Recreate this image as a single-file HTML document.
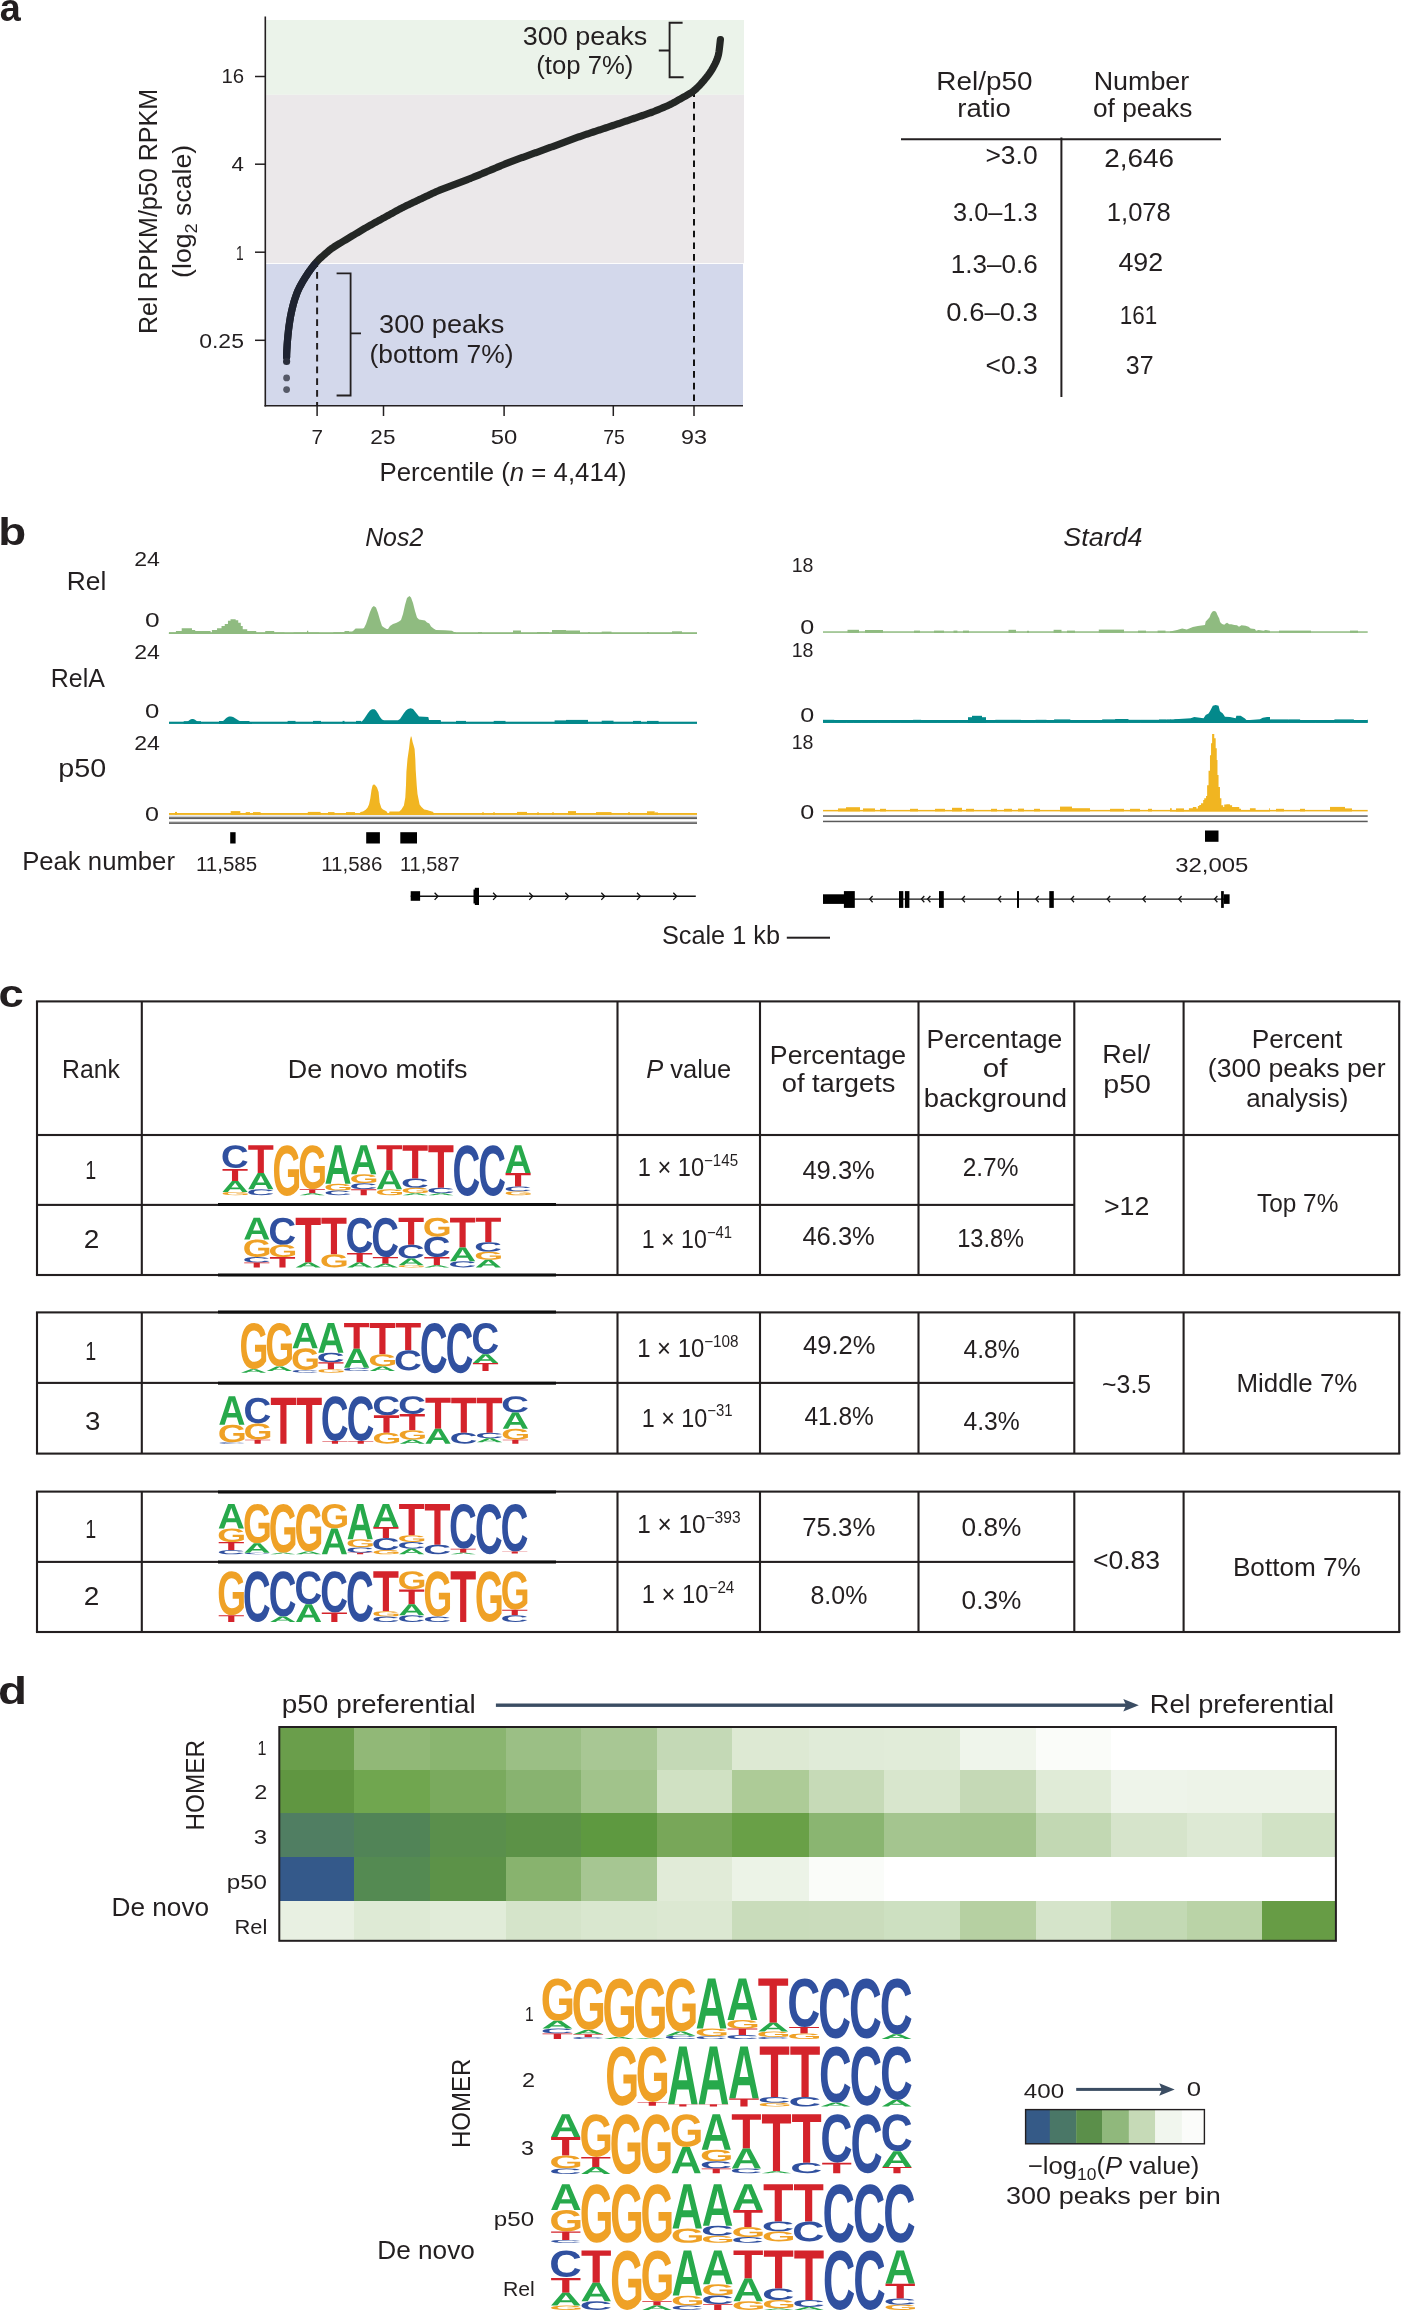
<!DOCTYPE html>
<html><head><meta charset="utf-8"><title>Figure</title>
<style>html,body{margin:0;padding:0;background:#fff;}
body{width:1401px;height:2311px;overflow:hidden;font-family:"Liberation Sans",sans-serif;}
svg{display:block;will-change:transform;}
text{font-family:"Liberation Sans",sans-serif;font-kerning:normal;}</style></head>
<body><svg width="1401" height="2311" viewBox="0 0 1401 2311" font-family="Liberation Sans, sans-serif"><defs><path id="gA" d="M1133 0 1008 360H471L346 0H51L565 1409H913L1425 0ZM739 1192 733 1170Q723 1134 709.0 1088.0Q695 1042 537 582H942L803 987L760 1123Z"/><path id="gC" d="M795 212Q1062 212 1166 480L1423 383Q1340 179 1179.5 79.5Q1019 -20 795 -20Q455 -20 269.5 172.5Q84 365 84 711Q84 1058 263.0 1244.0Q442 1430 782 1430Q1030 1430 1186.0 1330.5Q1342 1231 1405 1038L1145 967Q1112 1073 1015.5 1135.5Q919 1198 788 1198Q588 1198 484.5 1074.0Q381 950 381 711Q381 468 487.5 340.0Q594 212 795 212Z"/><path id="gG" d="M806 211Q921 211 1029.0 244.5Q1137 278 1196 330V525H852V743H1466V225Q1354 110 1174.5 45.0Q995 -20 798 -20Q454 -20 269.0 170.5Q84 361 84 711Q84 1059 270.0 1244.5Q456 1430 805 1430Q1301 1430 1436 1063L1164 981Q1120 1088 1026.0 1143.0Q932 1198 805 1198Q597 1198 489.0 1072.0Q381 946 381 711Q381 472 492.5 341.5Q604 211 806 211Z"/><path id="gT" d="M773 1181V0H478V1181H23V1409H1229V1181Z"/></defs><text transform="translate(-0.34 21.20) scale(0.99415 1)" x="0" y="0" font-size="38.00" fill="#231f20"><tspan font-weight="bold">a</tspan></text><rect x="265.50" y="20.00" width="478.50" height="74.80" fill="#ebf3ea" /><rect x="265.50" y="94.80" width="478.50" height="168.30" fill="#ebe8ea" /><rect x="265.50" y="264.00" width="477.50" height="141.50" fill="#d3d8eb" /><line x1="265.30" y1="16.50" x2="265.30" y2="406.50" stroke="#231f20" stroke-width="1.60" /><line x1="264.50" y1="405.70" x2="743.00" y2="405.70" stroke="#231f20" stroke-width="1.60" /><line x1="255.00" y1="76.50" x2="265.30" y2="76.50" stroke="#231f20" stroke-width="1.50" /><line x1="255.00" y1="164.20" x2="265.30" y2="164.20" stroke="#231f20" stroke-width="1.50" /><line x1="255.00" y1="252.20" x2="265.30" y2="252.20" stroke="#231f20" stroke-width="1.50" /><line x1="255.00" y1="340.30" x2="265.30" y2="340.30" stroke="#231f20" stroke-width="1.50" /><line x1="317.10" y1="405.70" x2="317.10" y2="416.00" stroke="#231f20" stroke-width="1.50" /><line x1="383.50" y1="405.70" x2="383.50" y2="416.00" stroke="#231f20" stroke-width="1.50" /><line x1="504.10" y1="405.70" x2="504.10" y2="416.00" stroke="#231f20" stroke-width="1.50" /><line x1="613.30" y1="405.70" x2="613.30" y2="416.00" stroke="#231f20" stroke-width="1.50" /><line x1="694.00" y1="405.70" x2="694.00" y2="416.00" stroke="#231f20" stroke-width="1.50" /><text transform="translate(221.47 82.70) scale(1.02010 1)" x="0" y="0" font-size="20.00" fill="#231f20">16</text><text transform="translate(231.45 170.90) scale(1.11765 1)" x="0" y="0" font-size="20.00" fill="#231f20">4</text><text transform="translate(235.97 260.00) scale(0.68966 1)" x="0" y="0" font-size="20.00" fill="#231f20">1</text><text transform="translate(199.20 348.00) scale(1.14973 1)" x="0" y="0" font-size="20.00" fill="#231f20">0.25</text><text transform="translate(311.52 443.70) scale(1.03261 1)" x="0" y="0" font-size="20.00" fill="#231f20">7</text><text transform="translate(370.37 443.70) scale(1.12745 1)" x="0" y="0" font-size="20.00" fill="#231f20">25</text><text transform="translate(490.85 443.70) scale(1.19324 1)" x="0" y="0" font-size="20.00" fill="#231f20">50</text><text transform="translate(603.23 443.70) scale(0.97059 1)" x="0" y="0" font-size="20.00" fill="#231f20">75</text><text transform="translate(680.95 443.70) scale(1.17073 1)" x="0" y="0" font-size="20.00" fill="#231f20">93</text><text transform="translate(379.54 480.70) scale(1.03165 1)" x="0" y="0" font-size="25.00" fill="#231f20">Percentile (<tspan font-style="italic">n</tspan> = 4,414)</text><text transform="translate(157.00 0) rotate(-90) translate(-334.01 0) scale(1.00281 1)" x="0" y="0" font-size="25.00" fill="#231f20">Rel RPKM/p50 RPKM</text><text transform="translate(191.30 0) rotate(-90) translate(-277.90 0) scale(1.06677 1)" x="0" y="0" font-size="25.00" fill="#231f20">(log<tspan font-size="17.00" dy="5.50">2</tspan><tspan dy="-5.50"> scale)</tspan></text><line x1="317.10" y1="260.30" x2="317.10" y2="405.70" stroke="#231f20" stroke-width="2.00" stroke-dasharray="6.7 5.1"/><line x1="694.00" y1="90.30" x2="694.00" y2="405.70" stroke="#111" stroke-width="2.00" stroke-dasharray="6.6 5.1"/><path d="M682.6 22.8 H669.6 V77.2 H683.6 M669.6 50.5 H658.8" fill="none" stroke="#231f20" stroke-width="1.9"/><path d="M336.6 273.4 H350.6 V395.5 H336.6 M350.6 333.4 H361" fill="none" stroke="#231f20" stroke-width="1.8"/><text transform="translate(522.86 44.50) scale(1.07811 1)" x="0" y="0" font-size="25.00" fill="#231f20">300 peaks</text><text transform="translate(536.26 74.30) scale(1.02842 1)" x="0" y="0" font-size="25.00" fill="#231f20">(top 7%)</text><text transform="translate(379.05 332.50) scale(1.08603 1)" x="0" y="0" font-size="25.00" fill="#231f20">300 peaks</text><text transform="translate(369.51 362.50) scale(1.05741 1)" x="0" y="0" font-size="25.00" fill="#231f20">(bottom 7%)</text><path d="M286.60 357.00 L286.60 355.45 L286.65 353.96 L286.72 352.50 L286.79 351.05 L286.87 349.61 L286.96 348.17 L287.05 346.73 L287.14 345.30 L287.24 343.86 L287.34 342.43 L287.45 340.99 L287.58 339.55 L287.71 338.11 L287.84 336.67 L287.98 335.22 L288.13 333.78 L288.28 332.33 L288.43 330.89 L288.60 329.44 L288.78 328.00 L288.97 326.56 L289.17 325.11 L289.38 323.67 L289.59 322.22 L289.82 320.78 L290.05 319.34 L290.29 317.91 L290.54 316.49 L290.80 315.08 L291.09 313.67 L291.38 312.29 L291.69 310.90 L292.01 309.53 L292.34 308.16 L292.67 306.79 L293.01 305.43 L293.37 304.07 L293.74 302.71 L294.14 301.36 L294.56 300.01 L295.00 298.67 L295.45 297.34 L295.91 296.00 L296.39 294.68 L296.88 293.35 L297.39 292.04 L297.93 290.74 L298.50 289.46 L299.11 288.19 L299.75 286.93 L300.41 285.69 L301.08 284.45 L301.77 283.21 L302.47 281.98 L303.18 280.76 L303.92 279.53 L304.67 278.32 L305.43 277.11 L306.22 275.91 L307.01 274.71 L307.81 273.52 L308.62 272.33 L309.44 271.16 L310.27 270.00 L311.11 268.86 L311.96 267.72 L312.81 266.60 L313.68 265.48 L314.55 264.38 L315.44 263.29 L316.35 262.22 L317.30 261.18 L318.27 260.17 L319.28 259.19 L320.30 258.22 L321.35 257.28 L322.40 256.34 L323.46 255.40 L324.52 254.47 L325.58 253.54 L326.64 252.61 L327.71 251.68 L328.78 250.78 L329.87 249.89 L330.98 249.02 L332.12 248.19 L333.28 247.40 L334.46 246.63 L335.65 245.88 L336.85 245.14 L338.06 244.41 L339.27 243.69 L340.48 242.96 L341.69 242.23 L342.90 241.51 L344.11 240.78 L345.32 240.06 L346.53 239.33 L347.74 238.61 L348.95 237.88 L350.16 237.16 L351.37 236.43 L352.58 235.71 L353.79 234.98 L355.00 234.25 L356.21 233.53 L357.42 232.80 L358.63 232.08 L359.84 231.35 L361.05 230.63 L362.26 229.90 L363.47 229.18 L364.69 228.47 L365.90 227.75 L367.12 227.05 L368.34 226.35 L369.57 225.66 L370.80 224.98 L372.03 224.30 L373.26 223.62 L374.49 222.95 L375.72 222.27 L376.95 221.59 L378.18 220.92 L379.41 220.24 L380.64 219.57 L381.87 218.89 L383.10 218.21 L384.33 217.54 L385.57 216.86 L386.80 216.19 L388.03 215.51 L389.26 214.83 L390.49 214.16 L391.72 213.48 L392.95 212.81 L394.18 212.13 L395.41 211.46 L396.65 210.78 L397.88 210.11 L399.11 209.44 L400.35 208.77 L401.59 208.12 L402.84 207.47 L404.09 206.84 L405.35 206.22 L406.62 205.61 L407.89 205.00 L409.16 204.40 L410.43 203.80 L411.70 203.20 L412.97 202.60 L414.24 202.00 L415.51 201.40 L416.79 200.80 L418.06 200.20 L419.33 199.60 L420.60 199.00 L421.87 198.40 L423.14 197.80 L424.41 197.20 L425.69 196.60 L426.96 196.00 L428.23 195.40 L429.50 194.80 L430.77 194.20 L432.04 193.60 L433.32 193.01 L434.59 192.41 L435.87 191.83 L437.16 191.25 L438.45 190.70 L439.75 190.15 L441.06 189.62 L442.37 189.10 L443.69 188.59 L445.01 188.08 L446.33 187.58 L447.66 187.07 L448.98 186.57 L450.30 186.07 L451.62 185.56 L452.94 185.06 L454.27 184.56 L455.59 184.05 L456.91 183.55 L458.23 183.04 L459.56 182.54 L460.88 182.04 L462.20 181.53 L463.52 181.03 L464.84 180.53 L466.17 180.02 L467.49 179.52 L468.81 179.01 L470.13 178.51 L471.45 178.00 L472.76 177.48 L474.08 176.96 L475.38 176.43 L476.69 175.90 L477.99 175.36 L479.29 174.82 L480.59 174.27 L481.89 173.73 L483.19 173.18 L484.49 172.64 L485.78 172.09 L487.08 171.55 L488.38 171.00 L489.68 170.45 L490.98 169.91 L492.27 169.36 L493.57 168.82 L494.87 168.27 L496.17 167.73 L497.47 167.18 L498.77 166.64 L500.06 166.09 L501.36 165.55 L502.66 165.00 L503.96 164.46 L505.26 163.92 L506.56 163.38 L507.86 162.85 L509.17 162.33 L510.48 161.82 L511.79 161.32 L513.11 160.83 L514.43 160.35 L515.75 159.87 L517.07 159.39 L518.39 158.92 L519.72 158.44 L521.04 157.97 L522.36 157.50 L523.68 157.02 L525.01 156.55 L526.33 156.07 L527.65 155.60 L528.97 155.13 L530.29 154.65 L531.62 154.18 L532.94 153.70 L534.26 153.23 L535.58 152.76 L536.91 152.28 L538.23 151.81 L539.55 151.33 L540.87 150.86 L542.19 150.38 L543.52 149.90 L544.84 149.43 L546.16 148.94 L547.48 148.46 L548.81 147.97 L550.13 147.49 L551.45 147.00 L552.77 146.51 L554.09 146.02 L555.42 145.53 L556.74 145.04 L558.06 144.56 L559.38 144.07 L560.71 143.58 L562.03 143.09 L563.35 142.60 L564.67 142.11 L565.99 141.62 L567.32 141.13 L568.64 140.64 L569.96 140.16 L571.28 139.67 L572.61 139.18 L573.93 138.69 L575.25 138.20 L576.57 137.71 L577.90 137.23 L579.23 136.75 L580.56 136.28 L581.89 135.81 L583.23 135.35 L584.57 134.90 L585.92 134.45 L587.26 134.00 L588.61 133.55 L589.96 133.11 L591.30 132.66 L592.65 132.22 L594.00 131.77 L595.35 131.32 L596.69 130.88 L598.04 130.43 L599.39 129.99 L600.73 129.54 L602.08 129.10 L603.43 128.65 L604.78 128.21 L606.12 127.76 L607.47 127.32 L608.82 126.87 L610.16 126.43 L611.51 125.98 L612.86 125.53 L614.21 125.09 L615.55 124.64 L616.90 124.19 L618.25 123.74 L619.59 123.28 L620.94 122.83 L622.29 122.37 L623.64 121.92 L624.98 121.46 L626.33 121.00 L627.68 120.55 L629.02 120.09 L630.37 119.63 L631.72 119.18 L633.07 118.72 L634.41 118.26 L635.76 117.81 L637.11 117.35 L638.45 116.89 L639.80 116.44 L641.15 115.98 L642.50 115.52 L643.84 115.07 L645.19 114.61 L646.54 114.15 L647.88 113.69 L649.23 113.22 L650.57 112.74 L651.90 112.25 L653.24 111.75 L654.57 111.23 L655.89 110.69 L657.21 110.15 L658.53 109.60 L659.85 109.04 L661.17 108.49 L662.49 107.93 L663.81 107.38 L665.12 106.81 L666.43 106.25 L667.73 105.67 L669.03 105.08 L670.30 104.46 L671.57 103.83 L672.81 103.17 L674.05 102.50 L675.28 101.81 L676.50 101.12 L677.73 100.43 L678.95 99.74 L680.17 99.04 L681.39 98.35 L682.61 97.65 L683.83 96.96 L685.05 96.26 L686.27 95.57 L687.49 94.87 L688.71 94.16 L689.91 93.44 L691.10 92.69 L692.27 91.91 L693.41 91.07 L694.52 90.18 L695.60 89.24 L696.66 88.26 L697.69 87.25 L698.71 86.22 L699.72 85.17 L700.71 84.10 L701.68 83.02 L702.65 81.92 L703.60 80.81 L704.54 79.69 L705.48 78.56 L706.40 77.43 L707.32 76.29 L708.21 75.14 L709.07 73.97 L709.90 72.78 L710.70 71.57 L711.47 70.35 L712.21 69.11 L712.94 67.86 L713.65 66.59 L714.35 65.31 L715.01 64.00 L715.65 62.66 L716.26 61.30 L716.82 59.92 L717.34 58.53 L717.80 57.12 L718.20 55.72 L718.53 54.31 L718.79 52.91 L719.02 51.50 L719.20 50.10 L719.38 48.70 L719.54 47.30 L719.70 45.90 L719.85 44.50 L720.01 43.10 L720.17 41.70 L720.32 40.30 L720.40 39.60" fill="none" stroke="#242725" stroke-width="7.2" stroke-linecap="round" stroke-linejoin="round"/><path d="M286.60 357.00 L286.60 355.45 L286.65 353.96 L286.72 352.50 L286.79 351.05 L286.87 349.61 L286.96 348.17 L287.05 346.73 L287.14 345.30 L287.24 343.86 L287.34 342.43 L287.45 340.99 L287.58 339.55 L287.71 338.11 L287.84 336.67 L287.98 335.22 L288.13 333.78 L288.28 332.33 L288.43 330.89 L288.60 329.44 L288.78 328.00 L288.97 326.56 L289.17 325.11 L289.38 323.67 L289.59 322.22 L289.82 320.78 L290.05 319.34 L290.29 317.91 L290.54 316.49 L290.80 315.08 L291.09 313.67 L291.38 312.29 L291.69 310.90 L292.01 309.53 L292.34 308.16 L292.67 306.79 L293.01 305.43 L293.37 304.07 L293.74 302.71 L294.14 301.36 L294.56 300.01 L295.00 298.67 L295.45 297.34 L295.91 296.00 L296.39 294.68 L296.88 293.35 L297.39 292.04 L297.93 290.74 L298.50 289.46 L299.11 288.19 L299.75 286.93 L300.41 285.69 L301.08 284.45 L301.77 283.21 L302.47 281.98 L303.18 280.76 L303.92 279.53 L304.67 278.32 L305.43 277.11 L306.22 275.91 L307.01 274.71 L307.81 273.52 L308.62 272.33 L309.44 271.16 L310.27 270.00 L311.11 268.86 L311.96 267.72 L312.81 266.60 L313.68 265.48 L314.55 264.38" fill="none" stroke="#1e2331" stroke-width="7.2" stroke-linecap="round" stroke-linejoin="round"/><circle cx="286.6" cy="361.5" r="3.6" fill="#2a2e3b"/><circle cx="286.6" cy="377.9" r="3.4" fill="#555967"/><circle cx="286.6" cy="389.6" r="3.4" fill="#555967"/><line x1="901.00" y1="139.20" x2="1221.00" y2="139.20" stroke="#231f20" stroke-width="2.00" /><line x1="1061.40" y1="137.40" x2="1061.40" y2="396.90" stroke="#231f20" stroke-width="2.00" /><text transform="translate(936.37 90.30) scale(1.11712 1)" x="0" y="0" font-size="25.00" fill="#231f20">Rel/p50</text><text transform="translate(957.31 116.80) scale(1.10217 1)" x="0" y="0" font-size="25.00" fill="#231f20">ratio</text><text transform="translate(1093.65 90.30) scale(1.07590 1)" x="0" y="0" font-size="25.00" fill="#231f20">Number</text><text transform="translate(1092.95 116.80) scale(1.05155 1)" x="0" y="0" font-size="25.00" fill="#231f20">of peaks</text><text transform="translate(985.41 164.30) scale(1.05752 1)" x="0" y="0" font-size="25.00" fill="#231f20">&gt;3.0</text><text transform="translate(953.11 220.90) scale(1.01472 1)" x="0" y="0" font-size="25.00" fill="#231f20">3.0–1.3</text><text transform="translate(950.74 273.00) scale(1.04348 1)" x="0" y="0" font-size="25.00" fill="#231f20">1.3–0.6</text><text transform="translate(946.34 321.00) scale(1.09693 1)" x="0" y="0" font-size="25.00" fill="#231f20">0.6–0.3</text><text transform="translate(985.41 373.70) scale(1.06032 1)" x="0" y="0" font-size="25.00" fill="#231f20">&lt;0.3</text><text transform="translate(1104.20 166.90) scale(1.11701 1)" x="0" y="0" font-size="25.00" fill="#231f20">2,646</text><text transform="translate(1106.78 220.90) scale(1.02474 1)" x="0" y="0" font-size="25.00" fill="#231f20">1,078</text><text transform="translate(1118.46 270.50) scale(1.07250 1)" x="0" y="0" font-size="25.00" fill="#231f20">492</text><text transform="translate(1119.82 323.60) scale(0.89838 1)" x="0" y="0" font-size="25.00" fill="#231f20">161</text><text transform="translate(1125.83 373.70) scale(0.99806 1)" x="0" y="0" font-size="25.00" fill="#231f20">37</text><text transform="translate(-1.67 545.20) scale(1.20375 1)" x="0" y="0" font-size="38.00" fill="#231f20"><tspan font-weight="bold">b</tspan></text><text transform="translate(365.15 546.00) scale(0.99521 1)" x="0" y="0" font-size="25.00" fill="#231f20"><tspan font-style="italic">Nos2</tspan></text><text transform="translate(1063.33 546.00) scale(1.07452 1)" x="0" y="0" font-size="25.00" fill="#231f20"><tspan font-style="italic">Stard4</tspan></text><path d="M168.85 634.00 L168.85 632.40 L175.92 632.40 L175.92 631.12 L181.70 631.12 L181.70 628.29 L191.98 628.29 L191.98 630.09 L195.19 630.09 L195.19 631.12 L210.61 631.12 L210.61 633.04 L211.90 633.04 L211.90 630.09 L217.04 630.09 L217.04 628.29 L221.53 628.29 L221.53 625.98 L224.75 625.98 L224.75 624.05 L227.96 624.05 L227.96 620.84 L230.53 620.84 L230.53 619.29 L235.67 619.29 L235.67 620.19 L238.24 620.19 L238.24 622.76 L240.81 622.76 L240.81 625.98 L242.73 625.98 L242.73 629.19 L247.23 629.19 L247.23 631.12 L256.22 631.12 L256.22 632.79 L265.22 632.79 L265.22 631.12 L271.64 631.12 L271.64 631.12 L274.21 631.12 L274.21 632.40 L284.49 632.40 L284.49 633.04 L293.49 633.04 L293.49 632.40 L306.98 632.40 L306.98 630.86 L308.26 630.86 L308.26 632.40 L319.18 632.40 L319.18 633.04 L333.32 633.04 L333.32 632.14 L345.00 632.14 L345.00 634.00 Z" fill="#8fbb80"/><rect x="169.00" y="632.20" width="528.00" height="1.80" fill="#8fbb80"/><rect x="344.50" y="631.00" width="4.50" height="3.00" fill="#8fbb80"/><rect x="349.00" y="631.50" width="13.00" height="2.50" fill="#8fbb80"/><rect x="478.00" y="632.00" width="4.00" height="2.00" fill="#8fbb80"/><rect x="513.00" y="630.50" width="8.00" height="3.50" fill="#8fbb80"/><rect x="537.00" y="632.00" width="12.00" height="2.00" fill="#8fbb80"/><rect x="552.00" y="630.00" width="14.00" height="4.00" fill="#8fbb80"/><rect x="566.00" y="630.50" width="14.00" height="3.50" fill="#8fbb80"/><rect x="588.00" y="632.00" width="2.00" height="2.00" fill="#8fbb80"/><rect x="601.70" y="631.60" width="9.80" height="2.40" fill="#8fbb80"/><rect x="647.00" y="632.00" width="2.00" height="2.00" fill="#8fbb80"/><rect x="672.00" y="631.30" width="10.00" height="2.70" fill="#8fbb80"/><path d="M340.00 634.00 L340.00 632.40 L341.00 632.40 L341.00 634.00 Z" fill="#8fbb80"/><path d="M352.00 634.00 L352.00 632.00 L355.60 628.50 L362.80 628.50 L364.00 628.00 L366.00 624.00 L368.00 618.00 L370.00 612.00 L372.00 607.50 L373.80 606.00 L376.00 607.50 L378.00 613.00 L380.00 620.00 L382.00 626.00 L384.00 627.50 L386.70 629.00 L388.00 629.00 L390.00 626.00 L393.00 624.00 L396.00 623.00 L399.00 621.50 L401.00 620.00 L403.00 614.00 L405.00 605.00 L407.00 598.00 L409.40 596.00 L411.00 597.50 L413.00 603.00 L415.00 611.00 L417.00 617.50 L419.00 619.50 L422.00 620.00 L425.00 620.50 L427.00 622.50 L429.30 623.50 L431.00 626.50 L433.50 628.50 L436.00 630.00 L445.00 630.20 L452.00 630.80 L454.00 632.00 L456.00 632.50 L456.00 634.00 Z" fill="#8fbb80"/><rect x="169.00" y="721.70" width="528.00" height="2.20" fill="#03898b"/><rect x="183.60" y="721.40" width="17.40" height="2.50" fill="#03898b"/><rect x="287.60" y="720.90" width="7.90" height="3.00" fill="#03898b"/><rect x="313.00" y="720.90" width="8.00" height="3.00" fill="#03898b"/><rect x="342.60" y="720.90" width="1.90" height="3.00" fill="#03898b"/><rect x="356.00" y="720.90" width="5.00" height="3.00" fill="#03898b"/><rect x="456.00" y="720.90" width="10.00" height="3.00" fill="#03898b"/><rect x="493.70" y="720.90" width="11.80" height="3.00" fill="#03898b"/><rect x="554.60" y="720.40" width="11.40" height="3.50" fill="#03898b"/><rect x="566.00" y="719.90" width="22.00" height="4.00" fill="#03898b"/><rect x="601.70" y="720.70" width="11.80" height="3.20" fill="#03898b"/><rect x="633.00" y="720.90" width="8.00" height="3.00" fill="#03898b"/><rect x="647.00" y="720.90" width="11.60" height="3.00" fill="#03898b"/><path d="M184.00 723.90 L184.00 721.40 L185.00 721.40 L186.00 721.40 L187.00 721.40 L188.00 721.32 L189.00 720.57 L190.00 719.85 L191.00 719.28 L192.00 718.96 L193.00 718.92 L194.00 719.20 L195.00 719.72 L196.00 720.42 L197.00 721.17 L198.00 721.40 L199.00 721.40 L200.00 721.40 L201.00 721.40 L201.00 723.90 Z" fill="#03898b"/><path d="M219.00 723.90 L219.00 720.90 L220.00 720.90 L221.00 720.90 L222.00 720.90 L223.00 720.90 L224.00 720.16 L225.00 719.26 L226.00 718.37 L227.00 717.56 L228.00 716.92 L229.00 716.52 L230.00 716.40 L231.00 716.49 L232.00 716.73 L233.00 717.10 L234.00 717.58 L235.00 718.15 L236.00 718.77 L237.00 719.42 L238.00 720.06 L239.00 720.68 L240.00 720.90 L241.00 720.90 L242.00 720.90 L243.00 720.90 L244.00 720.90 L245.00 720.90 L246.00 720.90 L247.00 720.90 L248.00 720.90 L249.00 720.90 L250.00 721.90 L251.00 721.90 L252.00 721.90 L252.00 723.90 Z" fill="#03898b"/><path d="M361.00 723.90 L361.00 721.90 L362.30 720.90 L364.00 718.90 L366.00 715.90 L368.00 712.90 L370.00 710.40 L372.00 709.30 L374.50 709.30 L376.00 710.40 L378.00 713.40 L380.00 716.90 L382.00 719.40 L384.00 720.30 L398.00 720.30 L400.00 718.90 L402.00 715.90 L404.00 712.90 L406.00 710.40 L408.00 708.90 L410.60 708.30 L413.00 708.90 L415.00 711.40 L417.00 713.90 L419.00 716.40 L428.30 716.90 L429.00 719.90 L440.70 720.10 L441.00 721.90 L441.00 723.90 Z" fill="#03898b"/><rect x="169.00" y="813.00" width="528.00" height="1.90" fill="#f1b521"/><rect x="175.00" y="811.90" width="2.00" height="3.00" fill="#f1b521"/><rect x="230.70" y="811.10" width="9.60" height="3.80" fill="#f1b521"/><rect x="245.70" y="812.10" width="4.30" height="2.80" fill="#f1b521"/><rect x="253.00" y="812.10" width="7.60" height="2.80" fill="#f1b521"/><rect x="307.80" y="811.90" width="12.80" height="3.00" fill="#f1b521"/><rect x="328.00" y="812.10" width="6.50" height="2.80" fill="#f1b521"/><rect x="346.00" y="812.10" width="9.00" height="2.80" fill="#f1b521"/><rect x="482.00" y="812.40" width="2.00" height="2.50" fill="#f1b521"/><rect x="493.00" y="812.40" width="2.00" height="2.50" fill="#f1b521"/><rect x="517.00" y="811.90" width="10.00" height="3.00" fill="#f1b521"/><rect x="537.00" y="812.40" width="2.00" height="2.50" fill="#f1b521"/><rect x="552.00" y="812.40" width="2.00" height="2.50" fill="#f1b521"/><rect x="568.00" y="811.10" width="8.00" height="3.80" fill="#f1b521"/><rect x="596.00" y="812.10" width="15.50" height="2.80" fill="#f1b521"/><rect x="628.00" y="812.30" width="2.00" height="2.60" fill="#f1b521"/><rect x="647.00" y="811.30" width="7.70" height="3.60" fill="#f1b521"/><rect x="654.70" y="812.40" width="3.30" height="2.50" fill="#f1b521"/><path d="M359.50 814.90 L359.50 813.30 L360.70 812.10 L363.00 811.40 L365.70 809.70 L367.50 807.70 L369.00 804.40 L370.30 798.40 L371.50 789.90 L372.50 785.60 L374.00 784.20 L375.50 785.40 L377.00 787.40 L378.60 791.90 L379.60 802.40 L381.40 807.90 L383.00 809.40 L385.00 810.40 L386.70 811.40 L387.50 813.10 L389.00 813.30 L389.60 811.40 L399.30 811.40 L401.40 809.40 L403.90 805.40 L405.30 797.40 L406.00 784.90 L406.40 771.90 L407.50 758.90 L409.10 747.90 L410.00 739.90 L411.00 736.10 L411.70 737.40 L412.60 741.90 L413.50 744.90 L414.60 748.90 L415.30 758.90 L415.70 769.90 L416.70 784.90 L417.50 793.90 L418.50 798.90 L419.60 804.40 L421.50 806.90 L424.20 809.40 L427.00 810.10 L429.20 810.70 L432.80 811.70 L434.00 813.30 L434.00 814.90 Z" fill="#f1b521"/><rect x="169.00" y="815.60" width="528.00" height="1.50" fill="#d0d0d0" /><rect x="169.00" y="817.20" width="528.00" height="1.90" fill="#5e5e5e" /><rect x="169.00" y="821.40" width="528.00" height="0.90" fill="#b8b8b8" /><rect x="169.00" y="822.20" width="528.00" height="1.80" fill="#6a6a6a" /><rect x="823.00" y="631.30" width="544.70" height="1.50" fill="#8fbb80"/><rect x="847.50" y="629.80" width="11.50" height="3.00" fill="#8fbb80"/><rect x="865.00" y="630.00" width="18.00" height="2.80" fill="#8fbb80"/><rect x="914.00" y="630.60" width="6.00" height="2.20" fill="#8fbb80"/><rect x="934.00" y="630.60" width="10.00" height="2.20" fill="#8fbb80"/><rect x="953.50" y="630.60" width="3.90" height="2.20" fill="#8fbb80"/><rect x="963.00" y="630.60" width="6.00" height="2.20" fill="#8fbb80"/><rect x="1008.50" y="629.80" width="7.50" height="3.00" fill="#8fbb80"/><rect x="1027.00" y="630.80" width="2.00" height="2.00" fill="#8fbb80"/><rect x="1053.60" y="629.80" width="7.90" height="3.00" fill="#8fbb80"/><rect x="1067.00" y="630.60" width="8.00" height="2.20" fill="#8fbb80"/><rect x="1098.80" y="629.60" width="25.20" height="3.20" fill="#8fbb80"/><rect x="1138.00" y="630.60" width="8.00" height="2.20" fill="#8fbb80"/><rect x="1157.60" y="630.60" width="7.90" height="2.20" fill="#8fbb80"/><rect x="1279.00" y="630.60" width="32.00" height="2.20" fill="#8fbb80"/><rect x="1350.00" y="630.60" width="8.00" height="2.20" fill="#8fbb80"/><path d="M1170.00 632.80 L1170.00 631.41 L1177.14 629.98 L1182.13 628.41 L1186.77 629.62 L1192.84 626.98 L1197.84 626.05 L1204.98 624.98 L1205.69 621.41 L1207.12 619.99 L1208.54 618.56 L1209.61 617.13 L1210.69 614.28 L1211.76 612.49 L1212.83 611.28 L1214.25 611.06 L1215.68 611.42 L1216.40 612.49 L1217.11 614.28 L1218.18 616.42 L1219.25 618.56 L1219.96 621.41 L1220.68 622.84 L1222.11 623.91 L1224.25 624.63 L1225.67 623.55 L1227.10 622.84 L1228.17 623.55 L1229.24 624.27 L1231.38 624.27 L1234.24 624.98 L1237.09 625.34 L1238.52 626.55 L1239.59 626.41 L1241.38 625.34 L1245.66 625.70 L1248.52 626.77 L1250.66 628.55 L1254.94 628.91 L1256.01 630.69 L1258.51 629.98 L1263.50 630.69 L1265.65 629.98 L1270.00 630.69 L1270.00 632.80 Z" fill="#8fbb80"/><rect x="823.00" y="720.00" width="544.70" height="2.80" fill="#03898b"/><rect x="823.00" y="719.80" width="11.18" height="3.00" fill="#03898b"/><rect x="834.18" y="720.40" width="12.32" height="2.40" fill="#03898b"/><rect x="846.50" y="720.20" width="7.16" height="2.60" fill="#03898b"/><rect x="853.66" y="720.20" width="7.51" height="2.60" fill="#03898b"/><rect x="861.16" y="720.20" width="6.93" height="2.60" fill="#03898b"/><rect x="868.09" y="720.40" width="9.44" height="2.40" fill="#03898b"/><rect x="877.53" y="720.40" width="12.94" height="2.40" fill="#03898b"/><rect x="890.47" y="720.20" width="9.85" height="2.60" fill="#03898b"/><rect x="900.32" y="720.20" width="12.79" height="2.60" fill="#03898b"/><rect x="913.11" y="719.80" width="7.98" height="3.00" fill="#03898b"/><rect x="921.09" y="720.20" width="16.09" height="2.60" fill="#03898b"/><rect x="937.18" y="720.20" width="21.16" height="2.60" fill="#03898b"/><rect x="958.34" y="720.40" width="15.37" height="2.40" fill="#03898b"/><rect x="973.71" y="720.40" width="21.62" height="2.40" fill="#03898b"/><rect x="995.33" y="719.80" width="14.91" height="3.00" fill="#03898b"/><rect x="1010.24" y="719.80" width="10.63" height="3.00" fill="#03898b"/><rect x="1020.87" y="720.20" width="14.65" height="2.60" fill="#03898b"/><rect x="1035.52" y="719.80" width="10.94" height="3.00" fill="#03898b"/><rect x="1046.46" y="720.20" width="7.65" height="2.60" fill="#03898b"/><rect x="1054.11" y="719.40" width="16.22" height="3.40" fill="#03898b"/><rect x="1070.33" y="720.40" width="7.56" height="2.40" fill="#03898b"/><rect x="1077.89" y="720.20" width="15.03" height="2.60" fill="#03898b"/><rect x="1092.92" y="720.20" width="9.30" height="2.60" fill="#03898b"/><rect x="1102.21" y="719.40" width="12.84" height="3.40" fill="#03898b"/><rect x="1115.06" y="719.00" width="13.45" height="3.80" fill="#03898b"/><rect x="1128.50" y="719.80" width="11.79" height="3.00" fill="#03898b"/><rect x="1140.29" y="719.80" width="18.71" height="3.00" fill="#03898b"/><rect x="1159.00" y="719.40" width="7.31" height="3.40" fill="#03898b"/><rect x="1166.31" y="719.40" width="14.40" height="3.40" fill="#03898b"/><rect x="1180.71" y="719.40" width="17.67" height="3.40" fill="#03898b"/><rect x="1198.38" y="720.40" width="15.74" height="2.40" fill="#03898b"/><rect x="1214.13" y="719.00" width="7.89" height="3.80" fill="#03898b"/><rect x="1222.02" y="719.40" width="8.64" height="3.40" fill="#03898b"/><rect x="1230.66" y="719.00" width="8.43" height="3.80" fill="#03898b"/><rect x="1239.09" y="720.40" width="12.75" height="2.40" fill="#03898b"/><rect x="1251.83" y="720.20" width="18.23" height="2.60" fill="#03898b"/><rect x="1270.07" y="719.40" width="18.63" height="3.40" fill="#03898b"/><rect x="1288.69" y="719.40" width="11.44" height="3.40" fill="#03898b"/><rect x="1300.14" y="720.20" width="15.51" height="2.60" fill="#03898b"/><rect x="1315.65" y="720.40" width="18.75" height="2.40" fill="#03898b"/><rect x="1334.40" y="719.40" width="19.44" height="3.40" fill="#03898b"/><rect x="1353.84" y="720.40" width="13.59" height="2.40" fill="#03898b"/><rect x="1367.42" y="719.40" width="0.28" height="3.40" fill="#03898b"/><rect x="968.00" y="717.20" width="18.00" height="5.60" fill="#03898b"/><rect x="972.00" y="715.80" width="10.00" height="7.00" fill="#03898b"/><path d="M1170.00 722.80 L1170.00 719.20 L1171.43 720.63 L1175.00 719.20 L1190.70 718.13 L1194.27 717.06 L1203.55 718.13 L1205.69 714.92 L1208.54 713.49 L1209.97 711.35 L1211.40 708.49 L1212.83 705.64 L1215.68 704.93 L1218.54 705.64 L1219.25 708.49 L1219.96 711.35 L1222.82 713.49 L1224.96 716.70 L1229.96 717.06 L1235.67 718.13 L1236.38 715.63 L1240.66 715.63 L1244.95 718.49 L1247.09 720.63 L1249.94 719.91 L1259.94 719.20 L1262.79 717.77 L1267.07 717.06 L1270.00 717.06 L1270.00 722.80 Z" fill="#03898b"/><path d="M1170.00 811.40 L1170.00 808.15 L1171.78 808.15 L1171.78 809.94 L1188.92 809.94 L1188.92 808.15 L1192.84 808.15 L1192.84 807.08 L1196.41 807.08 L1196.41 808.51 L1197.84 808.51 L1197.84 806.01 L1199.26 806.01 L1199.26 804.94 L1201.05 804.94 L1201.05 803.16 L1203.19 803.16 L1203.19 799.95 L1204.26 799.95 L1204.26 798.16 L1206.05 798.16 L1206.05 796.02 L1207.12 796.02 L1207.12 785.31 L1208.54 785.31 L1208.54 770.68 L1209.97 770.68 L1209.97 755.34 L1211.04 755.34 L1211.04 743.20 L1212.11 743.20 L1212.11 733.92 L1214.25 733.92 L1214.25 738.20 L1215.68 738.20 L1215.68 748.20 L1216.75 748.20 L1216.75 759.98 L1217.47 759.98 L1217.47 774.96 L1218.54 774.96 L1218.54 787.10 L1219.96 787.10 L1219.96 798.16 L1221.39 798.16 L1221.39 805.30 L1223.18 805.30 L1223.18 807.08 L1224.25 807.08 L1224.25 804.59 L1226.39 804.59 L1226.39 804.23 L1229.96 804.23 L1229.96 805.30 L1232.10 805.30 L1232.10 807.08 L1239.24 807.08 L1239.24 808.87 L1241.02 808.87 L1241.02 809.94 L1249.94 809.94 L1249.94 808.15 L1255.65 808.15 L1255.65 809.94 L1269.21 809.94 L1269.21 808.15 L1270.00 808.15 L1270.00 808.15 L1270.00 808.15 L1270.00 811.40 Z" fill="#f1b521"/><rect x="823.00" y="809.90" width="544.70" height="1.50" fill="#f1b521"/><rect x="838.00" y="808.40" width="8.00" height="3.00" fill="#f1b521"/><rect x="846.00" y="807.20" width="14.00" height="4.20" fill="#f1b521"/><rect x="863.00" y="808.40" width="12.00" height="3.00" fill="#f1b521"/><rect x="880.00" y="808.80" width="6.00" height="2.60" fill="#f1b521"/><rect x="910.00" y="808.80" width="8.00" height="2.60" fill="#f1b521"/><rect x="935.00" y="808.80" width="10.00" height="2.60" fill="#f1b521"/><rect x="952.00" y="807.80" width="10.00" height="3.60" fill="#f1b521"/><rect x="966.00" y="808.80" width="8.00" height="2.60" fill="#f1b521"/><rect x="991.00" y="808.80" width="6.00" height="2.60" fill="#f1b521"/><rect x="1004.00" y="808.80" width="8.00" height="2.60" fill="#f1b521"/><rect x="1018.00" y="808.60" width="6.00" height="2.80" fill="#f1b521"/><rect x="1034.00" y="808.80" width="6.00" height="2.60" fill="#f1b521"/><rect x="1060.00" y="806.60" width="12.00" height="4.80" fill="#f1b521"/><rect x="1072.00" y="808.20" width="18.00" height="3.20" fill="#f1b521"/><rect x="1110.00" y="808.80" width="14.00" height="2.60" fill="#f1b521"/><rect x="1130.00" y="808.80" width="10.00" height="2.60" fill="#f1b521"/><rect x="1148.00" y="808.80" width="4.00" height="2.60" fill="#f1b521"/><rect x="1176.00" y="808.40" width="8.00" height="3.00" fill="#f1b521"/><rect x="1276.00" y="808.80" width="8.00" height="2.60" fill="#f1b521"/><rect x="1300.00" y="808.80" width="5.00" height="2.60" fill="#f1b521"/><rect x="1330.00" y="806.90" width="15.00" height="4.50" fill="#f1b521"/><rect x="1345.00" y="808.40" width="7.00" height="3.00" fill="#f1b521"/><rect x="823.00" y="815.30" width="544.70" height="1.50" fill="#5a5a5a" /><rect x="823.00" y="820.70" width="544.70" height="1.50" fill="#5a5a5a" /><text transform="translate(134.25 566.00) scale(1.09961 1)" x="0" y="0" font-size="21.00" fill="#231f20">24</text><text transform="translate(145.08 626.90) scale(1.25675 1)" x="0" y="0" font-size="21.00" fill="#231f20">0</text><text transform="translate(134.25 658.50) scale(1.09961 1)" x="0" y="0" font-size="21.00" fill="#231f20">24</text><text transform="translate(145.10 718.00) scale(1.22730 1)" x="0" y="0" font-size="21.00" fill="#231f20">0</text><text transform="translate(134.25 749.90) scale(1.09961 1)" x="0" y="0" font-size="21.00" fill="#231f20">24</text><text transform="translate(145.12 820.70) scale(1.19784 1)" x="0" y="0" font-size="21.00" fill="#231f20">0</text><text transform="translate(791.73 572.00) scale(0.93324 1)" x="0" y="0" font-size="21.00" fill="#231f20">18</text><text transform="translate(800.22 633.50) scale(1.19784 1)" x="0" y="0" font-size="21.00" fill="#231f20">0</text><text transform="translate(791.73 656.70) scale(0.93324 1)" x="0" y="0" font-size="21.00" fill="#231f20">18</text><text transform="translate(800.22 722.20) scale(1.19784 1)" x="0" y="0" font-size="21.00" fill="#231f20">0</text><text transform="translate(791.73 749.30) scale(0.93324 1)" x="0" y="0" font-size="21.00" fill="#231f20">18</text><text transform="translate(800.22 819.20) scale(1.19784 1)" x="0" y="0" font-size="21.00" fill="#231f20">0</text><text transform="translate(66.79 590.20) scale(1.05588 1)" x="0" y="0" font-size="25.00" fill="#231f20">Rel</text><text transform="translate(50.70 686.50) scale(0.99952 1)" x="0" y="0" font-size="25.00" fill="#231f20">RelA</text><text transform="translate(58.28 776.50) scale(1.14904 1)" x="0" y="0" font-size="25.00" fill="#231f20">p50</text><rect x="230.20" y="832.20" width="5.40" height="11.30" fill="#000" /><rect x="366.20" y="832.20" width="13.70" height="11.30" fill="#000" /><rect x="400.30" y="832.20" width="16.70" height="11.30" fill="#000" /><rect x="1205.00" y="830.50" width="13.50" height="11.30" fill="#000" /><text transform="translate(22.14 869.60) scale(1.02818 1)" x="0" y="0" font-size="25.00" fill="#231f20">Peak number</text><text transform="translate(195.96 871.40) scale(1.02613 1)" x="0" y="0" font-size="20.00" fill="#231f20">11,585</text><text transform="translate(321.16 871.40) scale(1.02613 1)" x="0" y="0" font-size="20.00" fill="#231f20">11,586</text><text transform="translate(400.00 871.40) scale(0.99825 1)" x="0" y="0" font-size="20.00" fill="#231f20">11,587</text><text transform="translate(1175.16 871.50) scale(1.19765 1)" x="0" y="0" font-size="20.00" fill="#231f20">32,005</text><line x1="410.7" y1="896.30" x2="695.8" y2="896.30" stroke="#111" stroke-width="1.5"/><rect x="410.70" y="891.20" width="9.40" height="9.60" fill="#000" /><rect x="474.80" y="887.80" width="4.20" height="17.20" fill="#000" /><rect x="473.50" y="889.50" width="1.60" height="14.00" fill="#000" /><path d="M434.60 892.70 L438.00 896.30 L434.60 899.90M493.10 892.70 L496.50 896.30 L493.10 899.90M529.30 892.70 L532.70 896.30 L529.30 899.90M565.30 892.70 L568.70 896.30 L565.30 899.90M601.30 892.70 L604.70 896.30 L601.30 899.90M637.00 892.70 L640.40 896.30 L637.00 899.90M673.30 892.70 L676.70 896.30 L673.30 899.90" fill="none" stroke="#111" stroke-width="1.3"/><line x1="823" y1="899.10" x2="1229" y2="899.10" stroke="#111" stroke-width="1.4"/><rect x="823.00" y="894.30" width="21.00" height="9.60" fill="#000" /><rect x="843.90" y="891.10" width="10.90" height="16.80" fill="#000" /><rect x="899.00" y="891.10" width="4.30" height="16.80" fill="#000" /><rect x="904.90" y="891.10" width="4.50" height="16.80" fill="#000" /><rect x="939.00" y="891.10" width="4.80" height="16.80" fill="#000" /><rect x="1017.00" y="891.10" width="2.00" height="16.80" fill="#000" /><rect x="1049.30" y="891.10" width="4.50" height="16.80" fill="#000" /><rect x="1221.10" y="891.10" width="2.70" height="16.80" fill="#000" /><rect x="1223.80" y="894.30" width="5.80" height="9.60" fill="#000" /><path d="M872.60 896.00 L869.80 899.10 L872.60 902.20M924.30 896.00 L921.50 899.10 L924.30 902.20M930.40 896.00 L927.60 899.10 L930.40 902.20M964.90 896.00 L962.10 899.10 L964.90 902.20M1001.10 896.00 L998.30 899.10 L1001.10 902.20M1038.70 896.00 L1035.90 899.10 L1038.70 902.20M1074.00 896.00 L1071.20 899.10 L1074.00 902.20M1110.10 896.00 L1107.30 899.10 L1110.10 902.20M1145.70 896.00 L1142.90 899.10 L1145.70 902.20M1181.60 896.00 L1178.80 899.10 L1181.60 902.20M1217.40 896.00 L1214.60 899.10 L1217.40 902.20" fill="none" stroke="#111" stroke-width="1.3"/><text transform="translate(661.96 943.70) scale(1.01112 1)" x="0" y="0" font-size="25.00" fill="#231f20">Scale 1 kb</text><rect x="786.80" y="936.70" width="43.20" height="2.00" fill="#231f20" /><text transform="translate(-1.59 1007.30) scale(1.19617 1)" x="0" y="0" font-size="38.00" fill="#231f20"><tspan font-weight="bold">c</tspan></text><rect x="35.95" y="1000.35" width="1364.30" height="2.10" fill="#231f20" /><rect x="37.00" y="1133.95" width="1362.20" height="2.10" fill="#231f20" /><rect x="35.95" y="1273.95" width="1364.30" height="2.10" fill="#231f20" /><rect x="37.00" y="1203.85" width="1037.30" height="2.10" fill="#231f20" /><rect x="35.95" y="1001.40" width="2.10" height="273.60" fill="#231f20" /><rect x="1398.15" y="1001.40" width="2.10" height="273.60" fill="#231f20" /><rect x="140.75" y="1001.40" width="2.10" height="273.60" fill="#231f20" /><rect x="616.45" y="1001.40" width="2.10" height="273.60" fill="#231f20" /><rect x="758.95" y="1001.40" width="2.10" height="273.60" fill="#231f20" /><rect x="917.45" y="1001.40" width="2.10" height="273.60" fill="#231f20" /><rect x="1073.25" y="1001.40" width="2.10" height="273.60" fill="#231f20" /><rect x="1182.55" y="1001.40" width="2.10" height="273.60" fill="#231f20" /><rect x="218.00" y="1203.00" width="338.00" height="3.00" fill="#0d0d0d" /><rect x="218.00" y="1273.50" width="338.00" height="3.00" fill="#0d0d0d" /><rect x="35.95" y="1311.35" width="1364.30" height="2.10" fill="#231f20" /><rect x="35.95" y="1452.55" width="1364.30" height="2.10" fill="#231f20" /><rect x="37.00" y="1381.85" width="1037.30" height="2.10" fill="#231f20" /><rect x="35.95" y="1312.40" width="2.10" height="141.20" fill="#231f20" /><rect x="1398.15" y="1312.40" width="2.10" height="141.20" fill="#231f20" /><rect x="140.75" y="1312.40" width="2.10" height="141.20" fill="#231f20" /><rect x="616.45" y="1312.40" width="2.10" height="141.20" fill="#231f20" /><rect x="758.95" y="1312.40" width="2.10" height="141.20" fill="#231f20" /><rect x="917.45" y="1312.40" width="2.10" height="141.20" fill="#231f20" /><rect x="1073.25" y="1312.40" width="2.10" height="141.20" fill="#231f20" /><rect x="1182.55" y="1312.40" width="2.10" height="141.20" fill="#231f20" /><rect x="218.00" y="1310.50" width="338.00" height="3.00" fill="#0d0d0d" /><rect x="218.00" y="1381.70" width="338.00" height="3.00" fill="#0d0d0d" /><rect x="35.95" y="1490.55" width="1364.30" height="2.10" fill="#231f20" /><rect x="35.95" y="1630.95" width="1364.30" height="2.10" fill="#231f20" /><rect x="37.00" y="1560.85" width="1037.30" height="2.10" fill="#231f20" /><rect x="35.95" y="1491.60" width="2.10" height="140.40" fill="#231f20" /><rect x="1398.15" y="1491.60" width="2.10" height="140.40" fill="#231f20" /><rect x="140.75" y="1491.60" width="2.10" height="140.40" fill="#231f20" /><rect x="616.45" y="1491.60" width="2.10" height="140.40" fill="#231f20" /><rect x="758.95" y="1491.60" width="2.10" height="140.40" fill="#231f20" /><rect x="917.45" y="1491.60" width="2.10" height="140.40" fill="#231f20" /><rect x="1073.25" y="1491.60" width="2.10" height="140.40" fill="#231f20" /><rect x="1182.55" y="1491.60" width="2.10" height="140.40" fill="#231f20" /><rect x="218.00" y="1490.50" width="338.00" height="3.00" fill="#0d0d0d" /><rect x="218.00" y="1560.50" width="338.00" height="3.00" fill="#0d0d0d" /><text transform="translate(62.02 1078.00) scale(0.99115 1)" x="0" y="0" font-size="25.00" fill="#231f20">Rank</text><text transform="translate(287.85 1078.00) scale(1.07704 1)" x="0" y="0" font-size="25.00" fill="#231f20">De novo motifs</text><text transform="translate(646.13 1078.10) scale(1.02022 1)" x="0" y="0" font-size="25.00" fill="#231f20"><tspan font-style="italic">P</tspan> value</text><text transform="translate(769.87 1063.70) scale(1.06667 1)" x="0" y="0" font-size="25.00" fill="#231f20">Percentage</text><text transform="translate(781.71 1092.20) scale(1.09109 1)" x="0" y="0" font-size="25.00" fill="#231f20">of targets</text><text transform="translate(926.58 1047.90) scale(1.06106 1)" x="0" y="0" font-size="25.00" fill="#231f20">Percentage</text><text transform="translate(982.82 1077.00) scale(1.18239 1)" x="0" y="0" font-size="25.00" fill="#231f20">of</text><text transform="translate(923.65 1107.30) scale(1.09853 1)" x="0" y="0" font-size="25.00" fill="#231f20">background</text><text transform="translate(1102.14 1063.20) scale(1.08235 1)" x="0" y="0" font-size="25.00" fill="#231f20">Rel/</text><text transform="translate(1103.28 1092.70) scale(1.14395 1)" x="0" y="0" font-size="25.00" fill="#231f20">p50</text><text transform="translate(1251.70 1047.80) scale(1.05082 1)" x="0" y="0" font-size="25.00" fill="#231f20">Percent</text><text transform="translate(1207.80 1076.90) scale(1.06667 1)" x="0" y="0" font-size="25.00" fill="#231f20">(300 peaks per</text><text transform="translate(1246.16 1107.30) scale(1.03584 1)" x="0" y="0" font-size="25.00" fill="#231f20">analysis)</text><text transform="translate(85.22 1178.90) scale(0.79080 1)" x="0" y="0" font-size="25.00" fill="#231f20">1</text><text transform="translate(83.75 1248.00) scale(1.12174 1)" x="0" y="0" font-size="25.00" fill="#231f20">2</text><text transform="translate(85.22 1360.00) scale(0.79080 1)" x="0" y="0" font-size="25.00" fill="#231f20">1</text><text transform="translate(84.88 1430.00) scale(1.10833 1)" x="0" y="0" font-size="25.00" fill="#231f20">3</text><text transform="translate(85.22 1537.50) scale(0.79080 1)" x="0" y="0" font-size="25.00" fill="#231f20">1</text><text transform="translate(83.75 1605.00) scale(1.12174 1)" x="0" y="0" font-size="25.00" fill="#231f20">2</text><text transform="translate(637.73 1176.30) scale(0.94501 1)" x="0" y="0" font-size="25.00" fill="#231f20">1 × 10<tspan font-size="16.00" dy="-10.50">−145</tspan></text><text transform="translate(641.76 1248.10) scale(0.92816 1)" x="0" y="0" font-size="25.00" fill="#231f20">1 × 10<tspan font-size="16.00" dy="-10.50">−41</tspan></text><text transform="translate(802.39 1178.60) scale(1.02302 1)" x="0" y="0" font-size="25.00" fill="#231f20">49.3%</text><text transform="translate(802.39 1245.00) scale(1.02302 1)" x="0" y="0" font-size="25.00" fill="#231f20">46.3%</text><text transform="translate(962.68 1176.30) scale(0.97859 1)" x="0" y="0" font-size="25.00" fill="#231f20">2.7%</text><text transform="translate(957.13 1246.70) scale(0.94532 1)" x="0" y="0" font-size="25.00" fill="#231f20">13.8%</text><text transform="translate(1103.89 1214.70) scale(1.07165 1)" x="0" y="0" font-size="25.00" fill="#231f20">&gt;12</text><text transform="translate(1257.01 1211.80) scale(0.97561 1)" x="0" y="0" font-size="25.00" fill="#231f20">Top 7%</text><text transform="translate(637.21 1357.20) scale(0.95465 1)" x="0" y="0" font-size="25.00" fill="#231f20">1 × 10<tspan font-size="16.00" dy="-10.50">−108</tspan></text><text transform="translate(641.75 1426.90) scale(0.93450 1)" x="0" y="0" font-size="25.00" fill="#231f20">1 × 10<tspan font-size="16.00" dy="-10.50">−31</tspan></text><text transform="translate(802.99 1354.30) scale(1.02158 1)" x="0" y="0" font-size="25.00" fill="#231f20">49.2%</text><text transform="translate(804.51 1424.60) scale(0.97842 1)" x="0" y="0" font-size="25.00" fill="#231f20">41.8%</text><text transform="translate(963.51 1358.30) scale(0.98876 1)" x="0" y="0" font-size="25.00" fill="#231f20">4.8%</text><text transform="translate(963.51 1430.40) scale(0.98876 1)" x="0" y="0" font-size="25.00" fill="#231f20">4.3%</text><text transform="translate(1102.11 1393.20) scale(0.99208 1)" x="0" y="0" font-size="25.00" fill="#231f20">~3.5</text><text transform="translate(1236.43 1391.50) scale(1.03622 1)" x="0" y="0" font-size="25.00" fill="#231f20">Middle 7%</text><text transform="translate(637.17 1533.30) scale(0.97393 1)" x="0" y="0" font-size="25.00" fill="#231f20">1 × 10<tspan font-size="16.00" dy="-10.50">−393</tspan></text><text transform="translate(641.72 1603.00) scale(0.95185 1)" x="0" y="0" font-size="25.00" fill="#231f20">1 × 10<tspan font-size="16.00" dy="-10.50">−24</tspan></text><text transform="translate(802.21 1536.10) scale(1.03273 1)" x="0" y="0" font-size="25.00" fill="#231f20">75.3%</text><text transform="translate(810.50 1604.20) scale(0.99773 1)" x="0" y="0" font-size="25.00" fill="#231f20">8.0%</text><text transform="translate(961.58 1536.10) scale(1.04977 1)" x="0" y="0" font-size="25.00" fill="#231f20">0.8%</text><text transform="translate(961.58 1608.70) scale(1.04977 1)" x="0" y="0" font-size="25.00" fill="#231f20">0.3%</text><text transform="translate(1092.90 1568.70) scale(1.06339 1)" x="0" y="0" font-size="25.00" fill="#231f20">&lt;0.83</text><text transform="translate(1232.91 1575.60) scale(1.04712 1)" x="0" y="0" font-size="25.00" fill="#231f20">Bottom 7%</text><use href="#gC" fill="#30509f" transform="matrix(0.01877 0 0 -0.01571 220.92 1167.76)"/><use href="#gT" fill="#d4232b" transform="matrix(0.02084 0 0 -0.00866 222.02 1181.09)"/><use href="#gA" fill="#27a94b" transform="matrix(0.01829 0 0 -0.00770 221.57 1191.93)"/><use href="#gG" fill="#efa126" transform="matrix(0.01818 0 0 -0.00224 220.97 1195.14)"/><use href="#gT" fill="#d4232b" transform="matrix(0.02084 0 0 -0.01963 247.75 1172.95)"/><use href="#gA" fill="#27a94b" transform="matrix(0.01829 0 0 -0.01155 247.30 1189.22)"/><use href="#gC" fill="#30509f" transform="matrix(0.01877 0 0 -0.00411 246.65 1195.10)"/><use href="#gG" fill="#efa126" transform="matrix(0.01818 0 0 -0.03497 272.43 1195.30)"/><use href="#gG" fill="#efa126" transform="matrix(0.01818 0 0 -0.03029 298.16 1188.62)"/><use href="#gT" fill="#d4232b" transform="matrix(0.02084 0 0 -0.00289 299.21 1193.29)"/><use href="#gA" fill="#27a94b" transform="matrix(0.01829 0 0 -0.00135 298.76 1195.19)"/><use href="#gA" fill="#27a94b" transform="matrix(0.01829 0 0 -0.02732 324.49 1183.80)"/><use href="#gG" fill="#efa126" transform="matrix(0.01818 0 0 -0.00467 323.89 1190.48)"/><use href="#gC" fill="#30509f" transform="matrix(0.01877 0 0 -0.00318 323.84 1195.12)"/><use href="#gA" fill="#27a94b" transform="matrix(0.01829 0 0 -0.02059 350.22 1174.31)"/><use href="#gG" fill="#efa126" transform="matrix(0.01818 0 0 -0.00617 349.62 1183.13)"/><use href="#gC" fill="#30509f" transform="matrix(0.01877 0 0 -0.00411 349.57 1189.14)"/><use href="#gT" fill="#d4232b" transform="matrix(0.02084 0 0 -0.00423 350.67 1195.19)"/><use href="#gT" fill="#d4232b" transform="matrix(0.02084 0 0 -0.01770 376.40 1170.24)"/><use href="#gA" fill="#27a94b" transform="matrix(0.01829 0 0 -0.01347 375.95 1189.22)"/><use href="#gG" fill="#efa126" transform="matrix(0.01818 0 0 -0.00411 375.35 1195.10)"/><use href="#gT" fill="#d4232b" transform="matrix(0.02084 0 0 -0.02348 402.13 1178.38)"/><use href="#gC" fill="#30509f" transform="matrix(0.01877 0 0 -0.00654 401.03 1187.74)"/><use href="#gG" fill="#efa126" transform="matrix(0.01818 0 0 -0.00374 401.08 1193.21)"/><use href="#gA" fill="#27a94b" transform="matrix(0.01829 0 0 -0.00135 401.68 1195.19)"/><use href="#gT" fill="#d4232b" transform="matrix(0.02084 0 0 -0.03021 427.86 1187.87)"/><use href="#gC" fill="#30509f" transform="matrix(0.01877 0 0 -0.00374 426.76 1193.21)"/><use href="#gA" fill="#27a94b" transform="matrix(0.01829 0 0 -0.00135 427.41 1195.19)"/><use href="#gC" fill="#30509f" transform="matrix(0.01877 0 0 -0.03497 452.49 1195.30)"/><use href="#gC" fill="#30509f" transform="matrix(0.01877 0 0 -0.03497 478.22 1195.30)"/><use href="#gA" fill="#27a94b" transform="matrix(0.01829 0 0 -0.01963 504.60 1172.95)"/><use href="#gT" fill="#d4232b" transform="matrix(0.02084 0 0 -0.00962 505.05 1186.51)"/><use href="#gC" fill="#30509f" transform="matrix(0.01877 0 0 -0.00337 503.95 1191.32)"/><use href="#gG" fill="#efa126" transform="matrix(0.01818 0 0 -0.00262 504.00 1195.13)"/><use href="#gA" fill="#27a94b" transform="matrix(0.01829 0 0 -0.01542 243.27 1239.43)"/><use href="#gG" fill="#efa126" transform="matrix(0.01818 0 0 -0.01217 242.67 1256.84)"/><use href="#gC" fill="#30509f" transform="matrix(0.01877 0 0 -0.00375 242.62 1262.44)"/><use href="#gT" fill="#d4232b" transform="matrix(0.02084 0 0 -0.00347 243.72 1267.40)"/><use href="#gC" fill="#30509f" transform="matrix(0.01877 0 0 -0.01873 268.35 1244.48)"/><use href="#gG" fill="#efa126" transform="matrix(0.01818 0 0 -0.00843 268.40 1256.91)"/><use href="#gT" fill="#d4232b" transform="matrix(0.02084 0 0 -0.00732 269.45 1267.40)"/><use href="#gT" fill="#d4232b" transform="matrix(0.02084 0 0 -0.03180 295.18 1262.51)"/><use href="#gA" fill="#27a94b" transform="matrix(0.01829 0 0 -0.00347 294.73 1267.40)"/><use href="#gT" fill="#d4232b" transform="matrix(0.02084 0 0 -0.02602 320.91 1254.36)"/><use href="#gG" fill="#efa126" transform="matrix(0.01818 0 0 -0.00899 319.86 1267.22)"/><use href="#gC" fill="#30509f" transform="matrix(0.01877 0 0 -0.02435 345.54 1252.52)"/><use href="#gT" fill="#d4232b" transform="matrix(0.02084 0 0 -0.00675 346.64 1262.51)"/><use href="#gA" fill="#27a94b" transform="matrix(0.01829 0 0 -0.00347 346.19 1267.40)"/><use href="#gC" fill="#30509f" transform="matrix(0.01877 0 0 -0.02716 371.27 1256.54)"/><use href="#gT" fill="#d4232b" transform="matrix(0.02084 0 0 -0.00482 372.37 1263.87)"/><use href="#gA" fill="#27a94b" transform="matrix(0.01829 0 0 -0.00251 371.92 1267.40)"/><use href="#gT" fill="#d4232b" transform="matrix(0.02084 0 0 -0.01927 398.10 1244.86)"/><use href="#gC" fill="#30509f" transform="matrix(0.01877 0 0 -0.00936 397.00 1258.25)"/><use href="#gA" fill="#27a94b" transform="matrix(0.01829 0 0 -0.00482 397.65 1265.23)"/><use href="#gG" fill="#efa126" transform="matrix(0.01818 0 0 -0.00150 397.05 1267.37)"/><use href="#gG" fill="#efa126" transform="matrix(0.01818 0 0 -0.01311 422.78 1236.45)"/><use href="#gC" fill="#30509f" transform="matrix(0.01877 0 0 -0.01405 422.73 1256.80)"/><use href="#gT" fill="#d4232b" transform="matrix(0.02084 0 0 -0.00578 423.83 1265.23)"/><use href="#gA" fill="#27a94b" transform="matrix(0.01829 0 0 -0.00154 423.38 1267.40)"/><use href="#gT" fill="#d4232b" transform="matrix(0.02084 0 0 -0.02120 449.56 1247.57)"/><use href="#gA" fill="#27a94b" transform="matrix(0.01829 0 0 -0.00964 449.11 1261.15)"/><use href="#gC" fill="#30509f" transform="matrix(0.01877 0 0 -0.00431 448.46 1267.31)"/><use href="#gT" fill="#d4232b" transform="matrix(0.02084 0 0 -0.01735 475.29 1242.14)"/><use href="#gC" fill="#30509f" transform="matrix(0.01877 0 0 -0.00656 474.19 1251.52)"/><use href="#gG" fill="#efa126" transform="matrix(0.01818 0 0 -0.00562 474.24 1259.68)"/><use href="#gA" fill="#27a94b" transform="matrix(0.01829 0 0 -0.00540 474.84 1267.40)"/><use href="#gG" fill="#efa126" transform="matrix(0.01821 0 0 -0.03181 239.47 1368.49)"/><use href="#gA" fill="#27a94b" transform="matrix(0.01832 0 0 -0.00250 240.07 1372.66)"/><use href="#gG" fill="#efa126" transform="matrix(0.01821 0 0 -0.02994 265.24 1365.82)"/><use href="#gA" fill="#27a94b" transform="matrix(0.01832 0 0 -0.00327 265.84 1371.03)"/><use href="#gA" fill="#27a94b" transform="matrix(0.01832 0 0 -0.01791 291.61 1348.24)"/><use href="#gG" fill="#efa126" transform="matrix(0.01821 0 0 -0.01497 291.01 1369.64)"/><use href="#gC" fill="#30509f" transform="matrix(0.01880 0 0 -0.00187 290.96 1372.62)"/><use href="#gA" fill="#27a94b" transform="matrix(0.01832 0 0 -0.02118 317.38 1352.85)"/><use href="#gC" fill="#30509f" transform="matrix(0.01880 0 0 -0.00655 316.73 1362.21)"/><use href="#gT" fill="#d4232b" transform="matrix(0.02087 0 0 -0.00481 317.83 1369.13)"/><use href="#gG" fill="#efa126" transform="matrix(0.01821 0 0 -0.00243 316.78 1372.61)"/><use href="#gT" fill="#d4232b" transform="matrix(0.02087 0 0 -0.01830 343.60 1348.78)"/><use href="#gA" fill="#27a94b" transform="matrix(0.01832 0 0 -0.01348 343.15 1367.77)"/><use href="#gC" fill="#30509f" transform="matrix(0.01880 0 0 -0.00225 342.50 1370.98)"/><use href="#gT" fill="#d4232b" transform="matrix(0.02087 0 0 -0.02215 369.37 1354.21)"/><use href="#gG" fill="#efa126" transform="matrix(0.01821 0 0 -0.00842 368.32 1366.25)"/><use href="#gA" fill="#27a94b" transform="matrix(0.01832 0 0 -0.00327 368.92 1371.03)"/><use href="#gT" fill="#d4232b" transform="matrix(0.02087 0 0 -0.01926 395.14 1350.14)"/><use href="#gC" fill="#30509f" transform="matrix(0.01880 0 0 -0.01404 394.04 1370.21)"/><use href="#gC" fill="#30509f" transform="matrix(0.01880 0 0 -0.03462 419.81 1372.51)"/><use href="#gC" fill="#30509f" transform="matrix(0.01880 0 0 -0.03462 445.58 1372.51)"/><use href="#gC" fill="#30509f" transform="matrix(0.01880 0 0 -0.02152 471.35 1353.77)"/><use href="#gA" fill="#27a94b" transform="matrix(0.01832 0 0 -0.00616 472.00 1362.89)"/><use href="#gT" fill="#d4232b" transform="matrix(0.02087 0 0 -0.00578 472.45 1371.03)"/><use href="#gA" fill="#27a94b" transform="matrix(0.01832 0 0 -0.02018 218.37 1424.74)"/><use href="#gG" fill="#efa126" transform="matrix(0.01821 0 0 -0.01214 217.77 1442.10)"/><use href="#gC" fill="#30509f" transform="matrix(0.01880 0 0 -0.00093 217.72 1443.68)"/><use href="#gC" fill="#30509f" transform="matrix(0.01880 0 0 -0.01775 243.49 1423.03)"/><use href="#gG" fill="#efa126" transform="matrix(0.01821 0 0 -0.01121 243.54 1439.41)"/><use href="#gT" fill="#d4232b" transform="matrix(0.02087 0 0 -0.00288 244.59 1443.70)"/><use href="#gT" fill="#d4232b" transform="matrix(0.02087 0 0 -0.03268 270.36 1443.70)"/><use href="#gT" fill="#d4232b" transform="matrix(0.02087 0 0 -0.03268 296.13 1443.70)"/><use href="#gC" fill="#30509f" transform="matrix(0.01880 0 0 -0.03082 320.80 1440.37)"/><use href="#gT" fill="#d4232b" transform="matrix(0.02087 0 0 -0.00192 321.90 1443.70)"/><use href="#gC" fill="#30509f" transform="matrix(0.01880 0 0 -0.03082 346.57 1440.37)"/><use href="#gT" fill="#d4232b" transform="matrix(0.02087 0 0 -0.00192 347.67 1443.70)"/><use href="#gC" fill="#30509f" transform="matrix(0.01880 0 0 -0.01308 372.34 1415.00)"/><use href="#gT" fill="#d4232b" transform="matrix(0.02087 0 0 -0.01250 373.44 1432.87)"/><use href="#gG" fill="#efa126" transform="matrix(0.01821 0 0 -0.00747 372.39 1443.55)"/><use href="#gC" fill="#30509f" transform="matrix(0.01880 0 0 -0.01214 398.11 1413.66)"/><use href="#gT" fill="#d4232b" transform="matrix(0.02087 0 0 -0.01153 399.21 1430.16)"/><use href="#gG" fill="#efa126" transform="matrix(0.01821 0 0 -0.00654 398.16 1439.51)"/><use href="#gA" fill="#27a94b" transform="matrix(0.01832 0 0 -0.00288 398.76 1443.70)"/><use href="#gT" fill="#d4232b" transform="matrix(0.02087 0 0 -0.02211 424.98 1428.80)"/><use href="#gA" fill="#27a94b" transform="matrix(0.01832 0 0 -0.01057 424.53 1443.70)"/><use href="#gT" fill="#d4232b" transform="matrix(0.02087 0 0 -0.02499 450.75 1432.87)"/><use href="#gC" fill="#30509f" transform="matrix(0.01880 0 0 -0.00747 449.65 1443.55)"/><use href="#gT" fill="#d4232b" transform="matrix(0.02087 0 0 -0.02499 476.52 1432.87)"/><use href="#gC" fill="#30509f" transform="matrix(0.01880 0 0 -0.00374 475.42 1438.21)"/><use href="#gA" fill="#27a94b" transform="matrix(0.01832 0 0 -0.00288 476.07 1442.35)"/><use href="#gC" fill="#30509f" transform="matrix(0.01880 0 0 -0.01121 501.19 1412.33)"/><use href="#gA" fill="#27a94b" transform="matrix(0.01832 0 0 -0.01153 501.84 1428.80)"/><use href="#gG" fill="#efa126" transform="matrix(0.01821 0 0 -0.00747 501.24 1439.49)"/><use href="#gT" fill="#d4232b" transform="matrix(0.02087 0 0 -0.00288 502.29 1443.70)"/><use href="#gA" fill="#27a94b" transform="matrix(0.01832 0 0 -0.01733 217.77 1528.42)"/><use href="#gG" fill="#efa126" transform="matrix(0.01821 0 0 -0.00936 217.17 1541.80)"/><use href="#gT" fill="#d4232b" transform="matrix(0.02087 0 0 -0.00578 218.22 1550.13)"/><use href="#gC" fill="#30509f" transform="matrix(0.01880 0 0 -0.00281 217.12 1554.14)"/><use href="#gG" fill="#efa126" transform="matrix(0.01821 0 0 -0.02714 242.94 1542.80)"/><use href="#gA" fill="#27a94b" transform="matrix(0.01832 0 0 -0.00674 243.54 1552.84)"/><use href="#gC" fill="#30509f" transform="matrix(0.01880 0 0 -0.00094 242.89 1554.18)"/><use href="#gG" fill="#efa126" transform="matrix(0.01821 0 0 -0.03368 268.71 1552.17)"/><use href="#gA" fill="#27a94b" transform="matrix(0.01832 0 0 -0.00096 269.31 1554.20)"/><use href="#gG" fill="#efa126" transform="matrix(0.01821 0 0 -0.03275 294.48 1550.83)"/><use href="#gA" fill="#27a94b" transform="matrix(0.01832 0 0 -0.00193 295.08 1554.20)"/><use href="#gG" fill="#efa126" transform="matrix(0.01821 0 0 -0.01684 320.25 1528.08)"/><use href="#gA" fill="#27a94b" transform="matrix(0.01832 0 0 -0.01830 320.85 1554.20)"/><use href="#gA" fill="#27a94b" transform="matrix(0.01832 0 0 -0.02504 346.62 1539.28)"/><use href="#gG" fill="#efa126" transform="matrix(0.01821 0 0 -0.00561 346.02 1547.30)"/><use href="#gC" fill="#30509f" transform="matrix(0.01880 0 0 -0.00374 345.97 1552.77)"/><use href="#gT" fill="#d4232b" transform="matrix(0.02087 0 0 -0.00096 347.07 1554.20)"/><use href="#gA" fill="#27a94b" transform="matrix(0.01832 0 0 -0.01637 372.39 1527.06)"/><use href="#gT" fill="#d4232b" transform="matrix(0.02087 0 0 -0.00770 372.84 1537.92)"/><use href="#gC" fill="#30509f" transform="matrix(0.01880 0 0 -0.00842 371.74 1549.96)"/><use href="#gG" fill="#efa126" transform="matrix(0.01821 0 0 -0.00281 371.79 1554.14)"/><use href="#gT" fill="#d4232b" transform="matrix(0.02087 0 0 -0.02215 398.61 1535.21)"/><use href="#gG" fill="#efa126" transform="matrix(0.01821 0 0 -0.00468 397.56 1541.90)"/><use href="#gC" fill="#30509f" transform="matrix(0.01880 0 0 -0.00468 397.51 1548.68)"/><use href="#gA" fill="#27a94b" transform="matrix(0.01832 0 0 -0.00385 398.16 1554.20)"/><use href="#gT" fill="#d4232b" transform="matrix(0.02087 0 0 -0.02889 424.38 1544.70)"/><use href="#gC" fill="#30509f" transform="matrix(0.01880 0 0 -0.00655 423.28 1554.07)"/><use href="#gC" fill="#30509f" transform="matrix(0.01880 0 0 -0.03088 449.05 1548.16)"/><use href="#gT" fill="#d4232b" transform="matrix(0.02087 0 0 -0.00289 450.15 1552.84)"/><use href="#gA" fill="#27a94b" transform="matrix(0.01832 0 0 -0.00096 449.70 1554.20)"/><use href="#gC" fill="#30509f" transform="matrix(0.01880 0 0 -0.03462 474.82 1553.51)"/><use href="#gC" fill="#30509f" transform="matrix(0.01880 0 0 -0.03275 500.59 1550.83)"/><use href="#gT" fill="#d4232b" transform="matrix(0.02087 0 0 -0.00135 501.69 1553.39)"/><use href="#gG" fill="#efa126" transform="matrix(0.01821 0 0 -0.03035 217.17 1614.60)"/><use href="#gT" fill="#d4232b" transform="matrix(0.02087 0 0 -0.00482 218.22 1622.00)"/><use href="#gC" fill="#30509f" transform="matrix(0.01880 0 0 -0.03503 242.89 1621.30)"/><use href="#gC" fill="#30509f" transform="matrix(0.01880 0 0 -0.03129 268.66 1615.94)"/><use href="#gA" fill="#27a94b" transform="matrix(0.01832 0 0 -0.00386 269.31 1622.00)"/><use href="#gC" fill="#30509f" transform="matrix(0.01880 0 0 -0.02286 294.43 1603.89)"/><use href="#gA" fill="#27a94b" transform="matrix(0.01832 0 0 -0.01253 295.08 1622.00)"/><use href="#gC" fill="#30509f" transform="matrix(0.01880 0 0 -0.02848 320.20 1611.92)"/><use href="#gT" fill="#d4232b" transform="matrix(0.02087 0 0 -0.00675 321.30 1622.00)"/><use href="#gC" fill="#30509f" transform="matrix(0.01880 0 0 -0.03503 345.97 1621.30)"/><use href="#gT" fill="#d4232b" transform="matrix(0.02087 0 0 -0.02834 372.84 1611.13)"/><use href="#gG" fill="#efa126" transform="matrix(0.01821 0 0 -0.00375 371.79 1616.49)"/><use href="#gC" fill="#30509f" transform="matrix(0.01880 0 0 -0.00375 371.74 1621.93)"/><use href="#gG" fill="#efa126" transform="matrix(0.01821 0 0 -0.01255 397.56 1589.15)"/><use href="#gT" fill="#d4232b" transform="matrix(0.02087 0 0 -0.01060 398.61 1604.34)"/><use href="#gA" fill="#27a94b" transform="matrix(0.01832 0 0 -0.00771 398.16 1615.21)"/><use href="#gC" fill="#30509f" transform="matrix(0.01880 0 0 -0.00468 397.51 1621.91)"/><use href="#gG" fill="#efa126" transform="matrix(0.01821 0 0 -0.03129 423.33 1615.94)"/><use href="#gC" fill="#30509f" transform="matrix(0.01880 0 0 -0.00375 423.28 1621.93)"/><use href="#gT" fill="#d4232b" transform="matrix(0.02087 0 0 -0.03605 450.15 1622.00)"/><use href="#gG" fill="#efa126" transform="matrix(0.01821 0 0 -0.03503 474.87 1621.30)"/><use href="#gG" fill="#efa126" transform="matrix(0.01821 0 0 -0.02660 500.64 1609.24)"/><use href="#gT" fill="#d4232b" transform="matrix(0.02087 0 0 -0.00386 501.69 1615.21)"/><use href="#gC" fill="#30509f" transform="matrix(0.01880 0 0 -0.00468 500.59 1621.91)"/><text transform="translate(-1.90 1704.00) scale(1.25065 1)" x="0" y="0" font-size="38.00" fill="#231f20"><tspan font-weight="bold">d</tspan></text><text transform="translate(281.83 1712.80) scale(1.11648 1)" x="0" y="0" font-size="25.00" fill="#231f20">p50 preferential</text><text transform="translate(1149.83 1712.80) scale(1.08735 1)" x="0" y="0" font-size="25.00" fill="#231f20">Rel preferential</text><rect x="495.90" y="1703.50" width="631.00" height="3.40" fill="#3b4d63" /><path d="M1138.8 1705.2 L1123.3 1698.9 L1126.1 1705.2 L1123.3 1711.5 Z" fill="#3b4d63"/><rect x="279.00" y="1727.00" width="75.00" height="43.00" fill="#6a9e4b" shape-rendering="crispEdges"/><rect x="354.00" y="1727.00" width="76.00" height="43.00" fill="#91b877" shape-rendering="crispEdges"/><rect x="430.00" y="1727.00" width="76.00" height="43.00" fill="#8ab570" shape-rendering="crispEdges"/><rect x="506.00" y="1727.00" width="75.00" height="43.00" fill="#9bbf85" shape-rendering="crispEdges"/><rect x="581.00" y="1727.00" width="76.00" height="43.00" fill="#a8c794" shape-rendering="crispEdges"/><rect x="657.00" y="1727.00" width="75.00" height="43.00" fill="#c4d9b6" shape-rendering="crispEdges"/><rect x="732.00" y="1727.00" width="77.00" height="43.00" fill="#dde9d3" shape-rendering="crispEdges"/><rect x="809.00" y="1727.00" width="75.00" height="43.00" fill="#e0ebd8" shape-rendering="crispEdges"/><rect x="884.00" y="1727.00" width="76.00" height="43.00" fill="#e1ecd9" shape-rendering="crispEdges"/><rect x="960.00" y="1727.00" width="76.00" height="43.00" fill="#eff5eb" shape-rendering="crispEdges"/><rect x="1036.00" y="1727.00" width="75.00" height="43.00" fill="#fafcf9" shape-rendering="crispEdges"/><rect x="1111.00" y="1727.00" width="76.00" height="43.00" fill="#ffffff" shape-rendering="crispEdges"/><rect x="1187.00" y="1727.00" width="75.00" height="43.00" fill="#ffffff" shape-rendering="crispEdges"/><rect x="1262.00" y="1727.00" width="74.00" height="43.00" fill="#ffffff" shape-rendering="crispEdges"/><rect x="279.00" y="1770.00" width="75.00" height="43.00" fill="#609641" shape-rendering="crispEdges"/><rect x="354.00" y="1770.00" width="76.00" height="43.00" fill="#70a64f" shape-rendering="crispEdges"/><rect x="430.00" y="1770.00" width="76.00" height="43.00" fill="#7aaa5e" shape-rendering="crispEdges"/><rect x="506.00" y="1770.00" width="75.00" height="43.00" fill="#88b370" shape-rendering="crispEdges"/><rect x="581.00" y="1770.00" width="76.00" height="43.00" fill="#a1c38b" shape-rendering="crispEdges"/><rect x="657.00" y="1770.00" width="75.00" height="43.00" fill="#d0e1c3" shape-rendering="crispEdges"/><rect x="732.00" y="1770.00" width="77.00" height="43.00" fill="#adcb97" shape-rendering="crispEdges"/><rect x="809.00" y="1770.00" width="75.00" height="43.00" fill="#c6dab7" shape-rendering="crispEdges"/><rect x="884.00" y="1770.00" width="76.00" height="43.00" fill="#d8e6cd" shape-rendering="crispEdges"/><rect x="960.00" y="1770.00" width="76.00" height="43.00" fill="#c5d9b6" shape-rendering="crispEdges"/><rect x="1036.00" y="1770.00" width="75.00" height="43.00" fill="#e0ebd7" shape-rendering="crispEdges"/><rect x="1111.00" y="1770.00" width="76.00" height="43.00" fill="#eef4ea" shape-rendering="crispEdges"/><rect x="1187.00" y="1770.00" width="75.00" height="43.00" fill="#edf3e8" shape-rendering="crispEdges"/><rect x="1262.00" y="1770.00" width="74.00" height="43.00" fill="#edf3e8" shape-rendering="crispEdges"/><rect x="279.00" y="1813.00" width="75.00" height="44.00" fill="#507e62" shape-rendering="crispEdges"/><rect x="354.00" y="1813.00" width="76.00" height="44.00" fill="#518457" shape-rendering="crispEdges"/><rect x="430.00" y="1813.00" width="76.00" height="44.00" fill="#5a8f4c" shape-rendering="crispEdges"/><rect x="506.00" y="1813.00" width="75.00" height="44.00" fill="#5c9247" shape-rendering="crispEdges"/><rect x="581.00" y="1813.00" width="76.00" height="44.00" fill="#5e9940" shape-rendering="crispEdges"/><rect x="657.00" y="1813.00" width="75.00" height="44.00" fill="#78a759" shape-rendering="crispEdges"/><rect x="732.00" y="1813.00" width="77.00" height="44.00" fill="#69a047" shape-rendering="crispEdges"/><rect x="809.00" y="1813.00" width="75.00" height="44.00" fill="#8ab571" shape-rendering="crispEdges"/><rect x="884.00" y="1813.00" width="76.00" height="44.00" fill="#a4c58f" shape-rendering="crispEdges"/><rect x="960.00" y="1813.00" width="76.00" height="44.00" fill="#a3c48d" shape-rendering="crispEdges"/><rect x="1036.00" y="1813.00" width="75.00" height="44.00" fill="#c2d8b3" shape-rendering="crispEdges"/><rect x="1111.00" y="1813.00" width="76.00" height="44.00" fill="#d6e4cb" shape-rendering="crispEdges"/><rect x="1187.00" y="1813.00" width="75.00" height="44.00" fill="#dde9d4" shape-rendering="crispEdges"/><rect x="1262.00" y="1813.00" width="74.00" height="44.00" fill="#d1e2c5" shape-rendering="crispEdges"/><rect x="279.00" y="1857.00" width="75.00" height="44.00" fill="#34598a" shape-rendering="crispEdges"/><rect x="354.00" y="1857.00" width="76.00" height="44.00" fill="#548a52" shape-rendering="crispEdges"/><rect x="430.00" y="1857.00" width="76.00" height="44.00" fill="#5c9248" shape-rendering="crispEdges"/><rect x="506.00" y="1857.00" width="75.00" height="44.00" fill="#88b36e" shape-rendering="crispEdges"/><rect x="581.00" y="1857.00" width="76.00" height="44.00" fill="#a6c692" shape-rendering="crispEdges"/><rect x="657.00" y="1857.00" width="75.00" height="44.00" fill="#e1ebd8" shape-rendering="crispEdges"/><rect x="732.00" y="1857.00" width="77.00" height="44.00" fill="#ecf3e7" shape-rendering="crispEdges"/><rect x="809.00" y="1857.00" width="75.00" height="44.00" fill="#fafcf9" shape-rendering="crispEdges"/><rect x="884.00" y="1857.00" width="76.00" height="44.00" fill="#ffffff" shape-rendering="crispEdges"/><rect x="960.00" y="1857.00" width="76.00" height="44.00" fill="#ffffff" shape-rendering="crispEdges"/><rect x="1036.00" y="1857.00" width="75.00" height="44.00" fill="#ffffff" shape-rendering="crispEdges"/><rect x="1111.00" y="1857.00" width="76.00" height="44.00" fill="#ffffff" shape-rendering="crispEdges"/><rect x="1187.00" y="1857.00" width="75.00" height="44.00" fill="#ffffff" shape-rendering="crispEdges"/><rect x="1262.00" y="1857.00" width="74.00" height="44.00" fill="#ffffff" shape-rendering="crispEdges"/><rect x="279.00" y="1901.00" width="75.00" height="40.00" fill="#e8f0e2" shape-rendering="crispEdges"/><rect x="354.00" y="1901.00" width="76.00" height="40.00" fill="#deead5" shape-rendering="crispEdges"/><rect x="430.00" y="1901.00" width="76.00" height="40.00" fill="#e1ecd9" shape-rendering="crispEdges"/><rect x="506.00" y="1901.00" width="75.00" height="40.00" fill="#d5e4ca" shape-rendering="crispEdges"/><rect x="581.00" y="1901.00" width="76.00" height="40.00" fill="#d9e7cf" shape-rendering="crispEdges"/><rect x="657.00" y="1901.00" width="75.00" height="40.00" fill="#dce8d2" shape-rendering="crispEdges"/><rect x="732.00" y="1901.00" width="77.00" height="40.00" fill="#c9dcbb" shape-rendering="crispEdges"/><rect x="809.00" y="1901.00" width="75.00" height="40.00" fill="#cadcbc" shape-rendering="crispEdges"/><rect x="884.00" y="1901.00" width="76.00" height="40.00" fill="#cde0c1" shape-rendering="crispEdges"/><rect x="960.00" y="1901.00" width="76.00" height="40.00" fill="#b6d0a2" shape-rendering="crispEdges"/><rect x="1036.00" y="1901.00" width="75.00" height="40.00" fill="#d5e4ca" shape-rendering="crispEdges"/><rect x="1111.00" y="1901.00" width="76.00" height="40.00" fill="#c3d9b4" shape-rendering="crispEdges"/><rect x="1187.00" y="1901.00" width="75.00" height="40.00" fill="#bad3a7" shape-rendering="crispEdges"/><rect x="1262.00" y="1901.00" width="74.00" height="40.00" fill="#679c45" shape-rendering="crispEdges"/><rect x="279.30" y="1727.00" width="1056.60" height="213.80" fill="none" stroke="#231f20" stroke-width="2"/><text transform="translate(257.49 1755.00) scale(0.76628 1)" x="0" y="0" font-size="21.00" fill="#231f20">1</text><text transform="translate(254.13 1799.30) scale(1.11801 1)" x="0" y="0" font-size="21.00" fill="#231f20">2</text><text transform="translate(253.76 1844.10) scale(1.14087 1)" x="0" y="0" font-size="21.00" fill="#231f20">3</text><text transform="translate(226.75 1888.80) scale(1.14953 1)" x="0" y="0" font-size="21.00" fill="#231f20">p50</text><text transform="translate(234.55 1933.90) scale(1.04342 1)" x="0" y="0" font-size="21.00" fill="#231f20">Rel</text><text transform="translate(204.10 0) rotate(-90) translate(-1830.44 0) scale(0.93483 1)" x="0" y="0" font-size="26.00" fill="#231f20">HOMER</text><text transform="translate(111.50 1916.40) scale(1.04854 1)" x="0" y="0" font-size="25.00" fill="#231f20">De novo</text><text transform="translate(524.93 2020.80) scale(0.78161 1)" x="0" y="0" font-size="20.00" fill="#231f20">1</text><text transform="translate(522.03 2087.40) scale(1.17391 1)" x="0" y="0" font-size="20.00" fill="#231f20">2</text><text transform="translate(520.98 2155.40) scale(1.16667 1)" x="0" y="0" font-size="20.00" fill="#231f20">3</text><text transform="translate(493.85 2225.60) scale(1.20701 1)" x="0" y="0" font-size="20.00" fill="#231f20">p50</text><text transform="translate(502.90 2296.40) scale(1.06250 1)" x="0" y="0" font-size="20.00" fill="#231f20">Rel</text><text transform="translate(470.20 0) rotate(-90) translate(-2148.02 0) scale(0.92521 1)" x="0" y="0" font-size="26.00" fill="#231f20">HOMER</text><text transform="translate(377.20 2258.50) scale(1.04854 1)" x="0" y="0" font-size="25.00" fill="#231f20">De novo</text><use href="#gG" fill="#efa126" transform="matrix(0.02158 0 0 -0.02913 540.69 2020.25)"/><use href="#gA" fill="#27a94b" transform="matrix(0.02171 0 0 -0.00547 541.39 2028.54)"/><use href="#gC" fill="#30509f" transform="matrix(0.02228 0 0 -0.00335 540.63 2033.33)"/><use href="#gT" fill="#d4232b" transform="matrix(0.02473 0 0 -0.00405 541.93 2039.10)"/><use href="#gG" fill="#efa126" transform="matrix(0.02158 0 0 -0.03543 571.52 2029.26)"/><use href="#gA" fill="#27a94b" transform="matrix(0.02171 0 0 -0.00304 572.22 2034.25)"/><use href="#gT" fill="#d4232b" transform="matrix(0.02473 0 0 -0.00203 572.76 2037.10)"/><use href="#gC" fill="#30509f" transform="matrix(0.02228 0 0 -0.00138 571.46 2039.07)"/><use href="#gG" fill="#efa126" transform="matrix(0.02158 0 0 -0.04035 602.35 2036.30)"/><use href="#gA" fill="#27a94b" transform="matrix(0.02171 0 0 -0.00142 603.05 2039.10)"/><use href="#gG" fill="#efa126" transform="matrix(0.02158 0 0 -0.04094 633.18 2037.14)"/><use href="#gA" fill="#27a94b" transform="matrix(0.02171 0 0 -0.00081 633.88 2039.10)"/><use href="#gG" fill="#efa126" transform="matrix(0.02158 0 0 -0.03641 664.01 2030.67)"/><use href="#gA" fill="#27a94b" transform="matrix(0.02171 0 0 -0.00304 664.71 2035.68)"/><use href="#gC" fill="#30509f" transform="matrix(0.02228 0 0 -0.00236 663.95 2039.05)"/><use href="#gA" fill="#27a94b" transform="matrix(0.02171 0 0 -0.03544 695.54 2028.54)"/><use href="#gG" fill="#efa126" transform="matrix(0.02158 0 0 -0.00531 694.84 2036.14)"/><use href="#gC" fill="#30509f" transform="matrix(0.02228 0 0 -0.00197 694.78 2039.06)"/><use href="#gA" fill="#27a94b" transform="matrix(0.02171 0 0 -0.02937 726.37 2019.98)"/><use href="#gG" fill="#efa126" transform="matrix(0.02158 0 0 -0.00590 725.67 2028.42)"/><use href="#gT" fill="#d4232b" transform="matrix(0.02473 0 0 -0.00466 726.91 2035.10)"/><use href="#gC" fill="#30509f" transform="matrix(0.02228 0 0 -0.00276 725.61 2039.04)"/><use href="#gT" fill="#d4232b" transform="matrix(0.02473 0 0 -0.03139 757.74 2022.83)"/><use href="#gA" fill="#27a94b" transform="matrix(0.02171 0 0 -0.00608 757.20 2031.39)"/><use href="#gG" fill="#efa126" transform="matrix(0.02158 0 0 -0.00394 756.50 2037.02)"/><use href="#gC" fill="#30509f" transform="matrix(0.02228 0 0 -0.00138 756.44 2039.07)"/><use href="#gC" fill="#30509f" transform="matrix(0.02228 0 0 -0.03346 787.27 2026.44)"/><use href="#gT" fill="#d4232b" transform="matrix(0.02473 0 0 -0.00446 788.57 2033.39)"/><use href="#gG" fill="#efa126" transform="matrix(0.02158 0 0 -0.00394 787.33 2039.02)"/><use href="#gC" fill="#30509f" transform="matrix(0.02228 0 0 -0.04133 818.10 2037.70)"/><use href="#gC" fill="#30509f" transform="matrix(0.02228 0 0 -0.04133 848.93 2037.70)"/><use href="#gC" fill="#30509f" transform="matrix(0.02228 0 0 -0.03838 879.76 2033.48)"/><use href="#gA" fill="#27a94b" transform="matrix(0.02171 0 0 -0.00344 880.52 2039.10)"/><use href="#gG" fill="#efa126" transform="matrix(0.02138 0 0 -0.04079 605.20 2104.83)"/><use href="#gG" fill="#efa126" transform="matrix(0.02138 0 0 -0.03823 635.75 2101.16)"/><use href="#gT" fill="#d4232b" transform="matrix(0.02450 0 0 -0.00264 636.99 2105.64)"/><use href="#gA" fill="#27a94b" transform="matrix(0.02151 0 0 -0.04096 667.00 2104.21)"/><use href="#gT" fill="#d4232b" transform="matrix(0.02450 0 0 -0.00162 667.54 2106.50)"/><use href="#gA" fill="#27a94b" transform="matrix(0.02151 0 0 -0.04096 697.55 2104.21)"/><use href="#gT" fill="#d4232b" transform="matrix(0.02450 0 0 -0.00162 698.09 2106.50)"/><use href="#gA" fill="#27a94b" transform="matrix(0.02151 0 0 -0.03691 728.10 2098.50)"/><use href="#gT" fill="#d4232b" transform="matrix(0.02450 0 0 -0.00568 728.64 2106.50)"/><use href="#gT" fill="#d4232b" transform="matrix(0.02450 0 0 -0.03589 759.19 2097.07)"/><use href="#gC" fill="#30509f" transform="matrix(0.02207 0 0 -0.00394 757.90 2102.71)"/><use href="#gG" fill="#efa126" transform="matrix(0.02138 0 0 -0.00256 757.95 2106.45)"/><use href="#gT" fill="#d4232b" transform="matrix(0.02450 0 0 -0.03589 789.74 2097.07)"/><use href="#gC" fill="#30509f" transform="matrix(0.02207 0 0 -0.00650 788.45 2106.37)"/><use href="#gC" fill="#30509f" transform="matrix(0.02207 0 0 -0.03882 819.00 2102.01)"/><use href="#gA" fill="#27a94b" transform="matrix(0.02151 0 0 -0.00264 819.75 2106.50)"/><use href="#gC" fill="#30509f" transform="matrix(0.02207 0 0 -0.04079 849.55 2104.83)"/><use href="#gC" fill="#30509f" transform="matrix(0.02207 0 0 -0.03685 880.10 2099.19)"/><use href="#gA" fill="#27a94b" transform="matrix(0.02151 0 0 -0.00466 880.85 2106.50)"/><use href="#gA" fill="#27a94b" transform="matrix(0.02119 0 0 -0.01620 550.02 2137.02)"/><use href="#gT" fill="#d4232b" transform="matrix(0.02415 0 0 -0.01316 550.54 2155.56)"/><use href="#gG" fill="#efa126" transform="matrix(0.02107 0 0 -0.00885 549.33 2168.22)"/><use href="#gC" fill="#30509f" transform="matrix(0.02175 0 0 -0.00393 549.27 2174.02)"/><use href="#gG" fill="#efa126" transform="matrix(0.02107 0 0 -0.02951 579.45 2156.40)"/><use href="#gT" fill="#d4232b" transform="matrix(0.02415 0 0 -0.00709 580.66 2166.97)"/><use href="#gA" fill="#27a94b" transform="matrix(0.02119 0 0 -0.00506 580.14 2174.10)"/><use href="#gG" fill="#efa126" transform="matrix(0.02107 0 0 -0.04131 609.57 2173.27)"/><use href="#gG" fill="#efa126" transform="matrix(0.02107 0 0 -0.04072 639.69 2172.43)"/><use href="#gG" fill="#efa126" transform="matrix(0.02107 0 0 -0.02262 669.81 2146.55)"/><use href="#gA" fill="#27a94b" transform="matrix(0.02119 0 0 -0.01862 670.50 2173.24)"/><use href="#gA" fill="#27a94b" transform="matrix(0.02119 0 0 -0.02531 700.62 2149.85)"/><use href="#gG" fill="#efa126" transform="matrix(0.02107 0 0 -0.00787 699.93 2161.11)"/><use href="#gC" fill="#30509f" transform="matrix(0.02175 0 0 -0.00492 699.87 2168.30)"/><use href="#gT" fill="#d4232b" transform="matrix(0.02415 0 0 -0.00344 701.14 2173.24)"/><use href="#gT" fill="#d4232b" transform="matrix(0.02415 0 0 -0.02429 731.26 2148.43)"/><use href="#gA" fill="#27a94b" transform="matrix(0.02119 0 0 -0.01417 730.74 2168.40)"/><use href="#gC" fill="#30509f" transform="matrix(0.02175 0 0 -0.00334 729.99 2173.18)"/><use href="#gT" fill="#d4232b" transform="matrix(0.02415 0 0 -0.04049 761.38 2171.25)"/><use href="#gA" fill="#27a94b" transform="matrix(0.02119 0 0 -0.00142 760.86 2173.24)"/><use href="#gT" fill="#d4232b" transform="matrix(0.02415 0 0 -0.03441 791.50 2162.69)"/><use href="#gC" fill="#30509f" transform="matrix(0.02175 0 0 -0.00728 790.23 2173.10)"/><use href="#gC" fill="#30509f" transform="matrix(0.02175 0 0 -0.03344 820.35 2162.02)"/><use href="#gT" fill="#d4232b" transform="matrix(0.02415 0 0 -0.00749 821.62 2173.24)"/><use href="#gC" fill="#30509f" transform="matrix(0.02175 0 0 -0.04072 850.47 2172.43)"/><use href="#gC" fill="#30509f" transform="matrix(0.02175 0 0 -0.02557 880.59 2150.77)"/><use href="#gA" fill="#27a94b" transform="matrix(0.02119 0 0 -0.01113 881.34 2166.97)"/><use href="#gT" fill="#d4232b" transform="matrix(0.02415 0 0 -0.00445 881.86 2173.24)"/><use href="#gA" fill="#27a94b" transform="matrix(0.02137 0 0 -0.01823 550.01 2209.98)"/><use href="#gG" fill="#efa126" transform="matrix(0.02124 0 0 -0.01476 549.32 2231.09)"/><use href="#gT" fill="#d4232b" transform="matrix(0.02434 0 0 -0.00608 550.54 2239.95)"/><use href="#gC" fill="#30509f" transform="matrix(0.02193 0 0 -0.00197 549.26 2242.76)"/><use href="#gG" fill="#efa126" transform="matrix(0.02124 0 0 -0.04034 579.68 2241.99)"/><use href="#gG" fill="#efa126" transform="matrix(0.02124 0 0 -0.04034 610.04 2241.99)"/><use href="#gG" fill="#efa126" transform="matrix(0.02124 0 0 -0.04034 640.40 2241.99)"/><use href="#gA" fill="#27a94b" transform="matrix(0.02137 0 0 -0.03139 671.45 2228.53)"/><use href="#gG" fill="#efa126" transform="matrix(0.02124 0 0 -0.00984 670.76 2242.60)"/><use href="#gA" fill="#27a94b" transform="matrix(0.02137 0 0 -0.02937 701.81 2225.68)"/><use href="#gC" fill="#30509f" transform="matrix(0.02193 0 0 -0.00689 701.06 2235.53)"/><use href="#gG" fill="#efa126" transform="matrix(0.02124 0 0 -0.00492 701.12 2242.70)"/><use href="#gA" fill="#27a94b" transform="matrix(0.02137 0 0 -0.01823 732.17 2209.98)"/><use href="#gT" fill="#d4232b" transform="matrix(0.02434 0 0 -0.01215 732.70 2227.10)"/><use href="#gG" fill="#efa126" transform="matrix(0.02124 0 0 -0.00689 731.48 2236.95)"/><use href="#gC" fill="#30509f" transform="matrix(0.02193 0 0 -0.00394 731.42 2242.72)"/><use href="#gT" fill="#d4232b" transform="matrix(0.02434 0 0 -0.02633 763.06 2221.40)"/><use href="#gC" fill="#30509f" transform="matrix(0.02193 0 0 -0.00689 761.78 2231.25)"/><use href="#gG" fill="#efa126" transform="matrix(0.02124 0 0 -0.00689 761.84 2241.24)"/><use href="#gT" fill="#d4232b" transform="matrix(0.02434 0 0 -0.02633 793.42 2221.40)"/><use href="#gC" fill="#30509f" transform="matrix(0.02193 0 0 -0.01378 792.14 2241.10)"/><use href="#gC" fill="#30509f" transform="matrix(0.02193 0 0 -0.04034 822.50 2241.99)"/><use href="#gC" fill="#30509f" transform="matrix(0.02193 0 0 -0.04034 852.86 2241.99)"/><use href="#gC" fill="#30509f" transform="matrix(0.02193 0 0 -0.04034 883.22 2241.99)"/><use href="#gC" fill="#30509f" transform="matrix(0.02196 0 0 -0.01832 549.26 2276.69)"/><use href="#gT" fill="#d4232b" transform="matrix(0.02438 0 0 -0.01054 550.54 2292.77)"/><use href="#gA" fill="#27a94b" transform="matrix(0.02140 0 0 -0.00912 550.01 2305.62)"/><use href="#gG" fill="#efa126" transform="matrix(0.02127 0 0 -0.00295 549.31 2309.84)"/><use href="#gT" fill="#d4232b" transform="matrix(0.02438 0 0 -0.02290 580.94 2282.77)"/><use href="#gA" fill="#27a94b" transform="matrix(0.02140 0 0 -0.01317 580.41 2301.33)"/><use href="#gC" fill="#30509f" transform="matrix(0.02196 0 0 -0.00591 579.66 2309.78)"/><use href="#gG" fill="#efa126" transform="matrix(0.02127 0 0 -0.04097 610.11 2309.08)"/><use href="#gG" fill="#efa126" transform="matrix(0.02127 0 0 -0.03506 640.51 2300.63)"/><use href="#gT" fill="#d4232b" transform="matrix(0.02438 0 0 -0.00304 641.74 2305.62)"/><use href="#gA" fill="#27a94b" transform="matrix(0.02140 0 0 -0.00304 641.21 2309.90)"/><use href="#gA" fill="#27a94b" transform="matrix(0.02140 0 0 -0.03202 671.61 2295.62)"/><use href="#gG" fill="#efa126" transform="matrix(0.02127 0 0 -0.00689 670.91 2305.48)"/><use href="#gC" fill="#30509f" transform="matrix(0.02196 0 0 -0.00295 670.86 2309.84)"/><use href="#gA" fill="#27a94b" transform="matrix(0.02140 0 0 -0.02392 702.01 2284.20)"/><use href="#gG" fill="#efa126" transform="matrix(0.02127 0 0 -0.00788 701.31 2295.46)"/><use href="#gC" fill="#30509f" transform="matrix(0.02196 0 0 -0.00591 701.26 2304.07)"/><use href="#gT" fill="#d4232b" transform="matrix(0.02438 0 0 -0.00405 702.54 2309.90)"/><use href="#gT" fill="#d4232b" transform="matrix(0.02438 0 0 -0.01986 732.94 2278.49)"/><use href="#gA" fill="#27a94b" transform="matrix(0.02140 0 0 -0.01621 732.41 2301.33)"/><use href="#gG" fill="#efa126" transform="matrix(0.02127 0 0 -0.00591 731.71 2309.78)"/><use href="#gT" fill="#d4232b" transform="matrix(0.02438 0 0 -0.02696 763.34 2288.48)"/><use href="#gC" fill="#30509f" transform="matrix(0.02196 0 0 -0.00788 762.06 2299.75)"/><use href="#gG" fill="#efa126" transform="matrix(0.02127 0 0 -0.00591 762.11 2308.35)"/><use href="#gA" fill="#27a94b" transform="matrix(0.02140 0 0 -0.00101 762.81 2309.90)"/><use href="#gT" fill="#d4232b" transform="matrix(0.02438 0 0 -0.03506 793.74 2299.90)"/><use href="#gC" fill="#30509f" transform="matrix(0.02196 0 0 -0.00492 792.46 2306.95)"/><use href="#gA" fill="#27a94b" transform="matrix(0.02140 0 0 -0.00203 793.21 2309.90)"/><use href="#gC" fill="#30509f" transform="matrix(0.02196 0 0 -0.04097 822.86 2309.08)"/><use href="#gC" fill="#30509f" transform="matrix(0.02196 0 0 -0.04097 853.26 2309.08)"/><use href="#gA" fill="#27a94b" transform="matrix(0.02140 0 0 -0.02351 884.41 2283.63)"/><use href="#gT" fill="#d4232b" transform="matrix(0.02438 0 0 -0.01054 884.94 2298.48)"/><use href="#gC" fill="#30509f" transform="matrix(0.02196 0 0 -0.00433 883.66 2304.67)"/><use href="#gG" fill="#efa126" transform="matrix(0.02127 0 0 -0.00355 883.71 2309.83)"/><text transform="translate(1023.82 2098.40) scale(1.20807 1)" x="0" y="0" font-size="20.00" fill="#231f20">400</text><text transform="translate(1186.80 2095.70) scale(1.28866 1)" x="0" y="0" font-size="20.00" fill="#231f20">0</text><rect x="1076.20" y="2087.90" width="86.00" height="3.00" fill="#3b4d63" /><path d="M1174.7 2089.45 L1159.2 2083.2 L1162 2089.45 L1159.2 2095.7 Z" fill="#3b4d63"/><rect x="1025.20" y="2109.40" width="24.90" height="34.50" fill="#355a87" /><rect x="1049.80" y="2109.40" width="26.70" height="34.50" fill="#4a7767" /><rect x="1076.20" y="2109.40" width="26.10" height="34.50" fill="#5b8f4a" /><rect x="1102.00" y="2109.40" width="27.10" height="34.50" fill="#90b87c" /><rect x="1128.80" y="2109.40" width="26.60" height="34.50" fill="#c6dab7" /><rect x="1155.10" y="2109.40" width="27.00" height="34.50" fill="#f1f6ee" /><rect x="1181.80" y="2109.40" width="23.20" height="34.50" fill="#fbfcfa" /><rect x="1025.6" y="2109.6" width="178.8" height="34.2" fill="none" stroke="#231f20" stroke-width="1.4"/><text transform="translate(1027.74 2174.20) scale(1.07098 1)" x="0" y="0" font-size="24.00" fill="#231f20">−log<tspan font-size="16.32" dy="6.00">10</tspan><tspan dy="-6.00">(</tspan><tspan font-style="italic">P</tspan> value)</text><text transform="translate(1006.05 2204.20) scale(1.12614 1)" x="0" y="0" font-size="24.00" fill="#231f20">300 peaks per bin</text></svg></body></html>
